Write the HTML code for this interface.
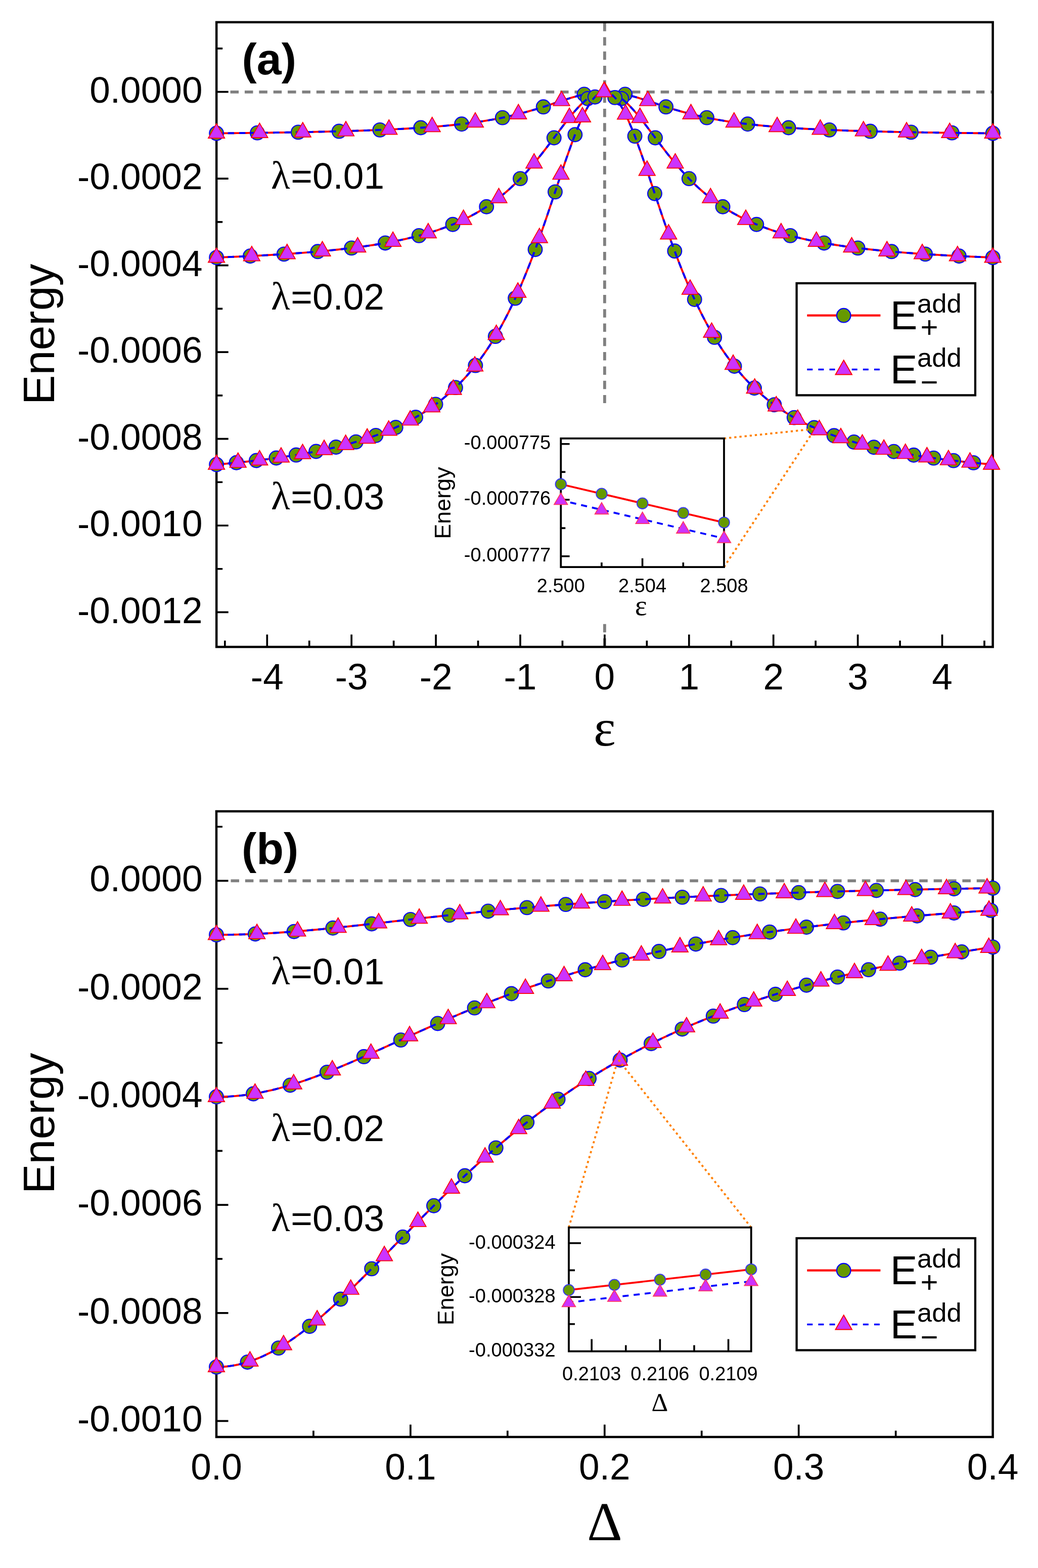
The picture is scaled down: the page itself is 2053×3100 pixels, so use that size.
<!DOCTYPE html>
<html lang="en"><head><meta charset="utf-8"><title>Energy figure</title>
<style>html,body{margin:0;padding:0;background:#fff;overflow:hidden}svg{display:block}</style></head>
<body>
<svg width="2053" height="3100" viewBox="0 0 2053 3100" font-family='"Liberation Sans", Arial, Helvetica, sans-serif' fill="#000">
<rect width="2053" height="3100" fill="#fff"/>
<g id="panel-a">
<path d="M455.6 181.9H1963.6" stroke="#808080" stroke-width="5.8" stroke-dasharray="16.5 11.87" fill="none"/>
<path d="M1195.9 45.2V797M1195.9 1233.8V1279" stroke="#808080" stroke-width="5.8" stroke-dasharray="16.5 11.8" fill="none"/>
<rect x="428.2" y="43.9" width="1535.4" height="1235.1" fill="none" stroke="#000" stroke-width="4.5"/>
<path d="M428.2 181.7h23.5M428.2 353.16h23.5M428.2 524.62h23.5M428.2 696.08h23.5M428.2 867.54h23.5M428.2 1039h23.5M428.2 1210.46h23.5M428.2 95.97h12M428.2 267.43h12M428.2 438.89h12M428.2 610.35h12M428.2 781.81h12M428.2 953.27h12M428.2 1124.73h12M528.3 1279v-24.5M695.2 1279v-24.5M862.1 1279v-24.5M1029 1279v-24.5M1195.9 1279v-24.5M1362.8 1279v-24.5M1529.7 1279v-24.5M1696.6 1279v-24.5M1863.5 1279v-24.5M444.85 1279v-12.5M611.75 1279v-12.5M778.65 1279v-12.5M945.55 1279v-12.5M1112.45 1279v-12.5M1279.35 1279v-12.5M1446.25 1279v-12.5M1613.15 1279v-12.5M1780.05 1279v-12.5M1946.95 1279v-12.5" stroke="#000" stroke-width="3.7" fill="none"/>
<path d="M428.16 263.56L432.65 263.52L437.14 263.47L441.63 263.43L446.12 263.38L450.61 263.34L455.1 263.29L459.59 263.24L464.08 263.19L468.57 263.14L473.06 263.09L477.55 263.04L482.04 262.99L486.53 262.93L491.02 262.88L495.51 262.82L500 262.77L504.49 262.71L508.97 262.65L513.46 262.59L517.95 262.53L522.44 262.47L526.93 262.41L531.42 262.34L535.91 262.28L540.4 262.21L544.89 262.14L549.38 262.07L553.87 262L558.36 261.93L562.85 261.86L567.34 261.78L571.83 261.71L576.32 261.63L580.81 261.55L585.3 261.47L589.79 261.39L594.28 261.3L598.77 261.22L603.26 261.13L607.75 261.04L612.24 260.95L616.73 260.86L621.22 260.76L625.71 260.66L630.2 260.57L634.69 260.46L639.18 260.36L643.67 260.25L648.16 260.15L652.65 260.04L657.14 259.92L661.62 259.81L666.11 259.69L670.6 259.57L675.09 259.45L679.58 259.32L684.07 259.19L688.56 259.06L693.05 258.92L697.54 258.78L702.03 258.64L706.52 258.5L711.01 258.35L715.5 258.2L719.99 258.04L724.48 257.88L728.97 257.72L733.46 257.55L737.95 257.38L742.44 257.2L746.93 257.02L751.42 256.84L755.91 256.65L760.4 256.45L764.89 256.25L769.38 256.05L773.87 255.84L778.36 255.62L782.85 255.4L787.34 255.17L791.83 254.94L796.32 254.7L800.81 254.45L805.3 254.19L809.79 253.93L814.27 253.67L818.76 253.39L823.25 253.11L827.74 252.81L832.23 252.51L836.72 252.21L841.21 251.89L845.7 251.56L850.19 251.23L854.68 250.88L859.17 250.52L863.66 250.15L868.15 249.78L872.64 249.39L877.13 248.99L881.62 248.57L886.11 248.14L890.6 247.7L895.09 247.25L899.58 246.78L904.07 246.3L908.56 245.8L913.05 245.29L917.54 244.76L922.03 244.21L926.52 243.65L931.01 243.07L935.5 242.47L939.99 241.85L944.48 241.21L948.97 240.55L953.46 239.87L957.95 239.16L962.44 238.44L966.92 237.69L971.41 236.91L975.9 236.11L980.39 235.29L984.88 234.44L989.37 233.56L993.86 232.66L998.35 231.72L1002.84 230.76L1007.33 229.77L1011.82 228.75L1016.31 227.7L1020.8 226.62L1025.29 225.51L1029.78 224.36L1034.27 223.19L1038.76 221.99L1043.25 220.75L1047.74 219.48L1052.23 218.19L1056.72 216.86L1061.21 215.51L1065.7 214.13L1070.19 212.73L1074.68 211.31L1079.17 209.86L1083.66 208.4L1088.15 206.92L1092.64 205.43L1097.13 203.94L1101.62 202.44L1106.11 200.94L1110.6 199.46L1115.09 197.98L1119.57 196.53L1124.06 195.1L1128.55 193.7L1133.04 192.35L1137.53 191.04L1142.02 189.79L1146.51 188.6L1151 187.49L1155.49 186.45L1159.98 185.49L1164.47 184.64L1168.96 183.88L1173.45 183.22L1177.94 182.68L1182.43 182.25L1186.92 181.95L1191.41 181.76L1195.9 181.7L1200.39 181.76L1204.88 181.95L1209.37 182.25L1213.86 182.68L1218.35 183.22L1222.84 183.88L1227.33 184.64L1231.82 185.49L1236.31 186.45L1240.8 187.49L1245.29 188.6L1249.78 189.79L1254.27 191.04L1258.76 192.35L1263.25 193.7L1267.74 195.1L1272.23 196.53L1276.71 197.98L1281.2 199.46L1285.69 200.94L1290.18 202.44L1294.67 203.94L1299.16 205.43L1303.65 206.92L1308.14 208.4L1312.63 209.86L1317.12 211.31L1321.61 212.73L1326.1 214.13L1330.59 215.51L1335.08 216.86L1339.57 218.19L1344.06 219.48L1348.55 220.75L1353.04 221.99L1357.53 223.19L1362.02 224.36L1366.51 225.51L1371 226.62L1375.49 227.7L1379.98 228.75L1384.47 229.77L1388.96 230.76L1393.45 231.72L1397.94 232.66L1402.43 233.56L1406.92 234.44L1411.41 235.29L1415.9 236.11L1420.39 236.91L1424.88 237.69L1429.36 238.44L1433.85 239.16L1438.34 239.87L1442.83 240.55L1447.32 241.21L1451.81 241.85L1456.3 242.47L1460.79 243.07L1465.28 243.65L1469.77 244.21L1474.26 244.76L1478.75 245.29L1483.24 245.8L1487.73 246.3L1492.22 246.78L1496.71 247.25L1501.2 247.7L1505.69 248.14L1510.18 248.57L1514.67 248.99L1519.16 249.39L1523.65 249.78L1528.14 250.15L1532.63 250.52L1537.12 250.88L1541.61 251.23L1546.1 251.56L1550.59 251.89L1555.08 252.21L1559.57 252.51L1564.06 252.81L1568.55 253.11L1573.04 253.39L1577.53 253.67L1582.01 253.93L1586.5 254.19L1590.99 254.45L1595.48 254.7L1599.97 254.94L1604.46 255.17L1608.95 255.4L1613.44 255.62L1617.93 255.84L1622.42 256.05L1626.91 256.25L1631.4 256.45L1635.89 256.65L1640.38 256.84L1644.87 257.02L1649.36 257.2L1653.85 257.38L1658.34 257.55L1662.83 257.72L1667.32 257.88L1671.81 258.04L1676.3 258.2L1680.79 258.35L1685.28 258.5L1689.77 258.64L1694.26 258.78L1698.75 258.92L1703.24 259.06L1707.73 259.19L1712.22 259.32L1716.71 259.45L1721.2 259.57L1725.69 259.69L1730.18 259.81L1734.66 259.92L1739.15 260.04L1743.64 260.15L1748.13 260.25L1752.62 260.36L1757.11 260.46L1761.6 260.57L1766.09 260.66L1770.58 260.76L1775.07 260.86L1779.56 260.95L1784.05 261.04L1788.54 261.13L1793.03 261.22L1797.52 261.3L1802.01 261.39L1806.5 261.47L1810.99 261.55L1815.48 261.63L1819.97 261.71L1824.46 261.78L1828.95 261.86L1833.44 261.93L1837.93 262L1842.42 262.07L1846.91 262.14L1851.4 262.21L1855.89 262.28L1860.38 262.34L1864.87 262.41L1869.36 262.47L1873.85 262.53L1878.34 262.59L1882.83 262.65L1887.31 262.71L1891.8 262.77L1896.29 262.82L1900.78 262.88L1905.27 262.93L1909.76 262.99L1914.25 263.04L1918.74 263.09L1923.23 263.14L1927.72 263.19L1932.21 263.24L1936.7 263.29L1941.19 263.34L1945.68 263.38L1950.17 263.43L1954.66 263.47L1959.15 263.52L1963.64 263.56" fill="none" stroke="#ff0000" stroke-width="3.9" stroke-linejoin="round"/>
<g fill="#669900" stroke="#0000ff" stroke-width="2.1"><circle cx="428.16" cy="263.56" r="13.9"/><circle cx="508.97" cy="262.65" r="13.9"/><circle cx="589.79" cy="261.39" r="13.9"/><circle cx="670.6" cy="259.57" r="13.9"/><circle cx="751.42" cy="256.84" r="13.9"/><circle cx="832.23" cy="252.51" r="13.9"/><circle cx="913.05" cy="245.29" r="13.9"/><circle cx="993.86" cy="232.66" r="13.9"/><circle cx="1074.68" cy="211.31" r="13.9"/><circle cx="1155.49" cy="186.45" r="13.9"/><circle cx="1236.31" cy="186.45" r="13.9"/><circle cx="1317.12" cy="211.31" r="13.9"/><circle cx="1397.94" cy="232.66" r="13.9"/><circle cx="1478.75" cy="245.29" r="13.9"/><circle cx="1559.57" cy="252.51" r="13.9"/><circle cx="1640.38" cy="256.84" r="13.9"/><circle cx="1721.2" cy="259.57" r="13.9"/><circle cx="1802.01" cy="261.39" r="13.9"/><circle cx="1882.83" cy="262.65" r="13.9"/><circle cx="1963.64" cy="263.56" r="13.9"/></g>
<path d="M428.16 263.56L432.65 263.52L437.14 263.47L441.63 263.43L446.12 263.38L450.61 263.34L455.1 263.29L459.59 263.24L464.08 263.19L468.57 263.14L473.06 263.09L477.55 263.04L482.04 262.99L486.53 262.93L491.02 262.88L495.51 262.82L500 262.77L504.49 262.71L508.97 262.65L513.46 262.59L517.95 262.53L522.44 262.47L526.93 262.41L531.42 262.34L535.91 262.28L540.4 262.21L544.89 262.14L549.38 262.07L553.87 262L558.36 261.93L562.85 261.86L567.34 261.78L571.83 261.71L576.32 261.63L580.81 261.55L585.3 261.47L589.79 261.39L594.28 261.3L598.77 261.22L603.26 261.13L607.75 261.04L612.24 260.95L616.73 260.86L621.22 260.76L625.71 260.66L630.2 260.57L634.69 260.46L639.18 260.36L643.67 260.25L648.16 260.15L652.65 260.04L657.14 259.92L661.62 259.81L666.11 259.69L670.6 259.57L675.09 259.45L679.58 259.32L684.07 259.19L688.56 259.06L693.05 258.92L697.54 258.78L702.03 258.64L706.52 258.5L711.01 258.35L715.5 258.2L719.99 258.04L724.48 257.88L728.97 257.72L733.46 257.55L737.95 257.38L742.44 257.2L746.93 257.02L751.42 256.84L755.91 256.65L760.4 256.45L764.89 256.25L769.38 256.05L773.87 255.84L778.36 255.62L782.85 255.4L787.34 255.17L791.83 254.94L796.32 254.7L800.81 254.45L805.3 254.19L809.79 253.93L814.27 253.67L818.76 253.39L823.25 253.11L827.74 252.81L832.23 252.51L836.72 252.21L841.21 251.89L845.7 251.56L850.19 251.23L854.68 250.88L859.17 250.52L863.66 250.15L868.15 249.78L872.64 249.39L877.13 248.99L881.62 248.57L886.11 248.14L890.6 247.7L895.09 247.25L899.58 246.78L904.07 246.3L908.56 245.8L913.05 245.29L917.54 244.76L922.03 244.21L926.52 243.65L931.01 243.07L935.5 242.47L939.99 241.85L944.48 241.21L948.97 240.55L953.46 239.87L957.95 239.16L962.44 238.44L966.92 237.69L971.41 236.91L975.9 236.11L980.39 235.29L984.88 234.44L989.37 233.56L993.86 232.66L998.35 231.72L1002.84 230.76L1007.33 229.77L1011.82 228.75L1016.31 227.7L1020.8 226.62L1025.29 225.51L1029.78 224.36L1034.27 223.19L1038.76 221.99L1043.25 220.75L1047.74 219.48L1052.23 218.19L1056.72 216.86L1061.21 215.51L1065.7 214.13L1070.19 212.73L1074.68 211.31L1079.17 209.86L1083.66 208.4L1088.15 206.92L1092.64 205.43L1097.13 203.94L1101.62 202.44L1106.11 200.94L1110.6 199.46L1115.09 197.98L1119.57 196.53L1124.06 195.1L1128.55 193.7L1133.04 192.35L1137.53 191.04L1142.02 189.79L1146.51 188.6L1151 187.49L1155.49 186.45L1159.98 185.49L1164.47 184.64L1168.96 183.88L1173.45 183.22L1177.94 182.68L1182.43 182.25L1186.92 181.95L1191.41 181.76L1195.9 181.7L1200.39 181.76L1204.88 181.95L1209.37 182.25L1213.86 182.68L1218.35 183.22L1222.84 183.88L1227.33 184.64L1231.82 185.49L1236.31 186.45L1240.8 187.49L1245.29 188.6L1249.78 189.79L1254.27 191.04L1258.76 192.35L1263.25 193.7L1267.74 195.1L1272.23 196.53L1276.71 197.98L1281.2 199.46L1285.69 200.94L1290.18 202.44L1294.67 203.94L1299.16 205.43L1303.65 206.92L1308.14 208.4L1312.63 209.86L1317.12 211.31L1321.61 212.73L1326.1 214.13L1330.59 215.51L1335.08 216.86L1339.57 218.19L1344.06 219.48L1348.55 220.75L1353.04 221.99L1357.53 223.19L1362.02 224.36L1366.51 225.51L1371 226.62L1375.49 227.7L1379.98 228.75L1384.47 229.77L1388.96 230.76L1393.45 231.72L1397.94 232.66L1402.43 233.56L1406.92 234.44L1411.41 235.29L1415.9 236.11L1420.39 236.91L1424.88 237.69L1429.36 238.44L1433.85 239.16L1438.34 239.87L1442.83 240.55L1447.32 241.21L1451.81 241.85L1456.3 242.47L1460.79 243.07L1465.28 243.65L1469.77 244.21L1474.26 244.76L1478.75 245.29L1483.24 245.8L1487.73 246.3L1492.22 246.78L1496.71 247.25L1501.2 247.7L1505.69 248.14L1510.18 248.57L1514.67 248.99L1519.16 249.39L1523.65 249.78L1528.14 250.15L1532.63 250.52L1537.12 250.88L1541.61 251.23L1546.1 251.56L1550.59 251.89L1555.08 252.21L1559.57 252.51L1564.06 252.81L1568.55 253.11L1573.04 253.39L1577.53 253.67L1582.01 253.93L1586.5 254.19L1590.99 254.45L1595.48 254.7L1599.97 254.94L1604.46 255.17L1608.95 255.4L1613.44 255.62L1617.93 255.84L1622.42 256.05L1626.91 256.25L1631.4 256.45L1635.89 256.65L1640.38 256.84L1644.87 257.02L1649.36 257.2L1653.85 257.38L1658.34 257.55L1662.83 257.72L1667.32 257.88L1671.81 258.04L1676.3 258.2L1680.79 258.35L1685.28 258.5L1689.77 258.64L1694.26 258.78L1698.75 258.92L1703.24 259.06L1707.73 259.19L1712.22 259.32L1716.71 259.45L1721.2 259.57L1725.69 259.69L1730.18 259.81L1734.66 259.92L1739.15 260.04L1743.64 260.15L1748.13 260.25L1752.62 260.36L1757.11 260.46L1761.6 260.57L1766.09 260.66L1770.58 260.76L1775.07 260.86L1779.56 260.95L1784.05 261.04L1788.54 261.13L1793.03 261.22L1797.52 261.3L1802.01 261.39L1806.5 261.47L1810.99 261.55L1815.48 261.63L1819.97 261.71L1824.46 261.78L1828.95 261.86L1833.44 261.93L1837.93 262L1842.42 262.07L1846.91 262.14L1851.4 262.21L1855.89 262.28L1860.38 262.34L1864.87 262.41L1869.36 262.47L1873.85 262.53L1878.34 262.59L1882.83 262.65L1887.31 262.71L1891.8 262.77L1896.29 262.82L1900.78 262.88L1905.27 262.93L1909.76 262.99L1914.25 263.04L1918.74 263.09L1923.23 263.14L1927.72 263.19L1932.21 263.24L1936.7 263.29L1941.19 263.34L1945.68 263.38L1950.17 263.43L1954.66 263.47L1959.15 263.52L1963.64 263.56" fill="none" stroke="#0000ff" stroke-width="3.9" stroke-dasharray="12.4 10" stroke-linejoin="round"/>
<path d="M428.16 244.32L444.41 273.12H411.91ZM513.46 243.35L529.71 272.15H497.21ZM598.77 241.98L615.02 270.78H582.52ZM684.07 239.95L700.32 268.75H667.82ZM769.38 236.81L785.63 265.61H753.13ZM854.68 231.64L870.93 260.44H838.43ZM939.99 222.61L956.24 251.41H923.74ZM1025.29 206.27L1041.54 235.07H1009.04ZM1110.6 180.22L1126.85 209.02H1094.35ZM1195.9 162.46L1212.15 191.26H1179.65ZM1281.2 180.22L1297.45 209.02H1264.95ZM1366.51 206.27L1382.76 235.07H1350.26ZM1451.81 222.61L1468.06 251.41H1435.56ZM1537.12 231.64L1553.37 260.44H1520.87ZM1622.42 236.81L1638.67 265.61H1606.17ZM1707.73 239.95L1723.98 268.75H1691.48ZM1793.03 241.98L1809.28 270.78H1776.78ZM1878.34 243.35L1894.59 272.15H1862.09ZM1963.64 244.32L1979.89 273.12H1947.39Z" fill="#cc33ff" stroke="#ff0000" stroke-width="1.7"/>
<path d="M428.16 509.15L431.19 509.03L434.23 508.91L437.26 508.79L440.3 508.67L443.33 508.54L446.37 508.42L449.4 508.29L452.44 508.17L455.47 508.04L458.51 507.91L461.54 507.78L464.57 507.64L467.61 507.51L470.64 507.37L473.68 507.24L476.71 507.1L479.75 506.95L482.78 506.81L485.82 506.67L488.85 506.52L491.89 506.37L494.92 506.22L497.95 506.07L500.99 505.92L504.02 505.76L507.06 505.61L510.09 505.45L513.13 505.28L516.16 505.12L519.2 504.96L522.23 504.79L525.27 504.62L528.3 504.45L531.33 504.27L534.37 504.1L537.4 503.92L540.44 503.74L543.47 503.56L546.51 503.37L549.54 503.18L552.58 502.99L555.61 502.8L558.65 502.61L561.68 502.41L564.71 502.21L567.75 502.01L570.78 501.8L573.82 501.59L576.85 501.38L579.89 501.17L582.92 500.95L585.96 500.73L588.99 500.51L592.03 500.28L595.06 500.06L598.09 499.82L601.13 499.59L604.16 499.35L607.2 499.11L610.23 498.86L613.27 498.61L616.3 498.36L619.34 498.11L622.37 497.85L625.41 497.58L628.44 497.32L631.47 497.05L634.51 496.77L637.54 496.49L640.58 496.21L643.61 495.92L646.65 495.63L649.68 495.34L652.72 495.04L655.75 494.73L658.79 494.42L661.82 494.11L664.85 493.79L667.89 493.47L670.92 493.14L673.96 492.81L676.99 492.47L680.03 492.13L683.06 491.78L686.1 491.42L689.13 491.06L692.17 490.7L695.2 490.33L698.23 489.95L701.27 489.57L704.3 489.18L707.34 488.78L710.37 488.38L713.41 487.97L716.44 487.56L719.48 487.14L722.51 486.71L725.55 486.27L728.58 485.83L731.61 485.38L734.65 484.92L737.68 484.45L740.72 483.98L743.75 483.5L746.79 483.01L749.82 482.51L752.86 482L755.89 481.49L758.93 480.96L761.96 480.43L764.99 479.89L768.03 479.33L771.06 478.77L774.1 478.2L777.13 477.62L780.17 477.02L783.2 476.42L786.24 475.8L789.27 475.18L792.31 474.54L795.34 473.89L798.37 473.23L801.41 472.56L804.44 471.87L807.48 471.17L810.51 470.46L813.55 469.74L816.58 469L819.62 468.25L822.65 467.48L825.69 466.7L828.72 465.9L831.75 465.09L834.79 464.26L837.82 463.42L840.86 462.56L843.89 461.68L846.93 460.78L849.96 459.87L853 458.94L856.03 457.99L859.07 457.02L862.1 456.04L865.13 455.03L868.17 454L871.2 452.95L874.24 451.88L877.27 450.79L880.31 449.67L883.34 448.54L886.38 447.37L889.41 446.19L892.45 444.98L895.48 443.74L898.51 442.48L901.55 441.19L904.58 439.88L907.62 438.53L910.65 437.16L913.69 435.76L916.72 434.33L919.76 432.87L922.79 431.38L925.83 429.85L928.86 428.29L931.89 426.7L934.93 425.08L937.96 423.42L941 421.72L944.03 419.99L947.07 418.22L950.1 416.41L953.14 414.56L956.17 412.67L959.21 410.74L962.24 408.77L965.27 406.75L968.31 404.7L971.34 402.6L974.38 400.45L977.41 398.25L980.45 396.01L983.48 393.73L986.52 391.39L989.55 389L992.59 386.57L995.62 384.08L998.65 381.54L1001.69 378.95L1004.72 376.3L1007.76 373.6L1010.79 370.85L1013.83 368.04L1016.86 365.18L1019.9 362.26L1022.93 359.28L1025.97 356.25L1029 353.16L1032.03 350.01L1035.07 346.81L1038.1 343.55L1041.14 340.24L1044.17 336.87L1047.21 333.44L1050.24 329.96L1053.28 326.43L1056.31 322.84L1059.35 319.21L1062.38 315.52L1065.41 311.79L1068.45 308.01L1071.48 304.19L1074.52 300.33L1077.55 296.43L1080.59 292.5L1083.62 288.54L1086.66 284.55L1089.69 280.54L1092.73 276.51L1095.76 272.47L1098.79 268.43L1101.83 264.38L1104.86 260.33L1107.9 256.3L1110.93 252.28L1113.97 248.29L1117 244.34L1120.04 240.42L1123.07 236.55L1126.11 232.74L1129.14 229L1132.17 225.33L1135.21 221.75L1138.24 218.26L1141.28 214.88L1144.31 211.6L1147.35 208.46L1150.38 205.44L1153.42 202.57L1156.45 199.84L1159.49 197.28L1162.52 194.89L1165.55 192.67L1168.59 190.64L1171.62 188.8L1174.66 187.17L1177.69 185.73L1180.73 184.51L1183.76 183.5L1186.8 182.72L1189.83 182.15L1192.87 181.81L1195.9 181.7L1198.93 181.81L1201.97 182.15L1205 182.72L1208.04 183.5L1211.07 184.51L1214.11 185.73L1217.14 187.17L1220.18 188.8L1223.21 190.64L1226.25 192.67L1229.28 194.89L1232.31 197.28L1235.35 199.84L1238.38 202.57L1241.42 205.44L1244.45 208.46L1247.49 211.6L1250.52 214.88L1253.56 218.26L1256.59 221.75L1259.63 225.33L1262.66 229L1265.69 232.74L1268.73 236.55L1271.76 240.42L1274.8 244.34L1277.83 248.29L1280.87 252.28L1283.9 256.3L1286.94 260.33L1289.97 264.38L1293.01 268.43L1296.04 272.47L1299.07 276.51L1302.11 280.54L1305.14 284.55L1308.18 288.54L1311.21 292.5L1314.25 296.43L1317.28 300.33L1320.32 304.19L1323.35 308.01L1326.39 311.79L1329.42 315.52L1332.45 319.21L1335.49 322.84L1338.52 326.43L1341.56 329.96L1344.59 333.44L1347.63 336.87L1350.66 340.24L1353.7 343.55L1356.73 346.81L1359.77 350.01L1362.8 353.16L1365.83 356.25L1368.87 359.28L1371.9 362.26L1374.94 365.18L1377.97 368.04L1381.01 370.85L1384.04 373.6L1387.08 376.3L1390.11 378.95L1393.15 381.54L1396.18 384.08L1399.21 386.57L1402.25 389L1405.28 391.39L1408.32 393.73L1411.35 396.01L1414.39 398.25L1417.42 400.45L1420.46 402.6L1423.49 404.7L1426.53 406.75L1429.56 408.77L1432.59 410.74L1435.63 412.67L1438.66 414.56L1441.7 416.41L1444.73 418.22L1447.77 419.99L1450.8 421.72L1453.84 423.42L1456.87 425.08L1459.91 426.7L1462.94 428.29L1465.97 429.85L1469.01 431.38L1472.04 432.87L1475.08 434.33L1478.11 435.76L1481.15 437.16L1484.18 438.53L1487.22 439.88L1490.25 441.19L1493.29 442.48L1496.32 443.74L1499.35 444.98L1502.39 446.19L1505.42 447.37L1508.46 448.54L1511.49 449.67L1514.53 450.79L1517.56 451.88L1520.6 452.95L1523.63 454L1526.67 455.03L1529.7 456.04L1532.73 457.02L1535.77 457.99L1538.8 458.94L1541.84 459.87L1544.87 460.78L1547.91 461.68L1550.94 462.56L1553.98 463.42L1557.01 464.26L1560.05 465.09L1563.08 465.9L1566.11 466.7L1569.15 467.48L1572.18 468.25L1575.22 469L1578.25 469.74L1581.29 470.46L1584.32 471.17L1587.36 471.87L1590.39 472.56L1593.43 473.23L1596.46 473.89L1599.49 474.54L1602.53 475.18L1605.56 475.8L1608.6 476.42L1611.63 477.02L1614.67 477.62L1617.7 478.2L1620.74 478.77L1623.77 479.33L1626.81 479.89L1629.84 480.43L1632.87 480.96L1635.91 481.49L1638.94 482L1641.98 482.51L1645.01 483.01L1648.05 483.5L1651.08 483.98L1654.12 484.45L1657.15 484.92L1660.19 485.38L1663.22 485.83L1666.25 486.27L1669.29 486.71L1672.32 487.14L1675.36 487.56L1678.39 487.97L1681.43 488.38L1684.46 488.78L1687.5 489.18L1690.53 489.57L1693.57 489.95L1696.6 490.33L1699.63 490.7L1702.67 491.06L1705.7 491.42L1708.74 491.78L1711.77 492.13L1714.81 492.47L1717.84 492.81L1720.88 493.14L1723.91 493.47L1726.95 493.79L1729.98 494.11L1733.01 494.42L1736.05 494.73L1739.08 495.04L1742.12 495.34L1745.15 495.63L1748.19 495.92L1751.22 496.21L1754.26 496.49L1757.29 496.77L1760.33 497.05L1763.36 497.32L1766.39 497.58L1769.43 497.85L1772.46 498.11L1775.5 498.36L1778.53 498.61L1781.57 498.86L1784.6 499.11L1787.64 499.35L1790.67 499.59L1793.71 499.82L1796.74 500.06L1799.77 500.28L1802.81 500.51L1805.84 500.73L1808.88 500.95L1811.91 501.17L1814.95 501.38L1817.98 501.59L1821.02 501.8L1824.05 502.01L1827.09 502.21L1830.12 502.41L1833.15 502.61L1836.19 502.8L1839.22 502.99L1842.26 503.18L1845.29 503.37L1848.33 503.56L1851.36 503.74L1854.4 503.92L1857.43 504.1L1860.47 504.27L1863.5 504.45L1866.53 504.62L1869.57 504.79L1872.6 504.96L1875.64 505.12L1878.67 505.28L1881.71 505.45L1884.74 505.61L1887.78 505.76L1890.81 505.92L1893.85 506.07L1896.88 506.22L1899.91 506.37L1902.95 506.52L1905.98 506.67L1909.02 506.81L1912.05 506.95L1915.09 507.1L1918.12 507.24L1921.16 507.37L1924.19 507.51L1927.23 507.64L1930.26 507.78L1933.29 507.91L1936.33 508.04L1939.36 508.17L1942.4 508.29L1945.43 508.42L1948.47 508.54L1951.5 508.67L1954.54 508.79L1957.57 508.91L1960.61 509.03L1963.64 509.15" fill="none" stroke="#ff0000" stroke-width="3.9" stroke-linejoin="round"/>
<g fill="#669900" stroke="#0000ff" stroke-width="2.1"><circle cx="428.16" cy="509.15" r="13.9"/><circle cx="494.92" cy="506.22" r="13.9"/><circle cx="561.68" cy="502.41" r="13.9"/><circle cx="628.44" cy="497.32" r="13.9"/><circle cx="695.2" cy="490.33" r="13.9"/><circle cx="761.96" cy="480.43" r="13.9"/><circle cx="828.72" cy="465.9" r="13.9"/><circle cx="895.48" cy="443.74" r="13.9"/><circle cx="962.24" cy="408.77" r="13.9"/><circle cx="1029" cy="353.16" r="13.9"/><circle cx="1095.76" cy="272.47" r="13.9"/><circle cx="1162.52" cy="194.89" r="13.9"/><circle cx="1229.28" cy="194.89" r="13.9"/><circle cx="1296.04" cy="272.47" r="13.9"/><circle cx="1362.8" cy="353.16" r="13.9"/><circle cx="1429.56" cy="408.77" r="13.9"/><circle cx="1496.32" cy="443.74" r="13.9"/><circle cx="1563.08" cy="465.9" r="13.9"/><circle cx="1629.84" cy="480.43" r="13.9"/><circle cx="1696.6" cy="490.33" r="13.9"/><circle cx="1763.36" cy="497.32" r="13.9"/><circle cx="1830.12" cy="502.41" r="13.9"/><circle cx="1896.88" cy="506.22" r="13.9"/><circle cx="1963.64" cy="509.15" r="13.9"/></g>
<path d="M428.16 509.15L431.19 509.03L434.23 508.91L437.26 508.79L440.3 508.67L443.33 508.54L446.37 508.42L449.4 508.29L452.44 508.17L455.47 508.04L458.51 507.91L461.54 507.78L464.57 507.64L467.61 507.51L470.64 507.37L473.68 507.24L476.71 507.1L479.75 506.95L482.78 506.81L485.82 506.67L488.85 506.52L491.89 506.37L494.92 506.22L497.95 506.07L500.99 505.92L504.02 505.76L507.06 505.61L510.09 505.45L513.13 505.28L516.16 505.12L519.2 504.96L522.23 504.79L525.27 504.62L528.3 504.45L531.33 504.27L534.37 504.1L537.4 503.92L540.44 503.74L543.47 503.56L546.51 503.37L549.54 503.18L552.58 502.99L555.61 502.8L558.65 502.61L561.68 502.41L564.71 502.21L567.75 502.01L570.78 501.8L573.82 501.59L576.85 501.38L579.89 501.17L582.92 500.95L585.96 500.73L588.99 500.51L592.03 500.28L595.06 500.06L598.09 499.82L601.13 499.59L604.16 499.35L607.2 499.11L610.23 498.86L613.27 498.61L616.3 498.36L619.34 498.11L622.37 497.85L625.41 497.58L628.44 497.32L631.47 497.05L634.51 496.77L637.54 496.49L640.58 496.21L643.61 495.92L646.65 495.63L649.68 495.34L652.72 495.04L655.75 494.73L658.79 494.42L661.82 494.11L664.85 493.79L667.89 493.47L670.92 493.14L673.96 492.81L676.99 492.47L680.03 492.13L683.06 491.78L686.1 491.42L689.13 491.06L692.17 490.7L695.2 490.33L698.23 489.95L701.27 489.57L704.3 489.18L707.34 488.78L710.37 488.38L713.41 487.97L716.44 487.56L719.48 487.14L722.51 486.71L725.55 486.27L728.58 485.83L731.61 485.38L734.65 484.92L737.68 484.45L740.72 483.98L743.75 483.5L746.79 483.01L749.82 482.51L752.86 482L755.89 481.49L758.93 480.96L761.96 480.43L764.99 479.89L768.03 479.33L771.06 478.77L774.1 478.2L777.13 477.62L780.17 477.02L783.2 476.42L786.24 475.8L789.27 475.18L792.31 474.54L795.34 473.89L798.37 473.23L801.41 472.56L804.44 471.87L807.48 471.17L810.51 470.46L813.55 469.74L816.58 469L819.62 468.25L822.65 467.48L825.69 466.7L828.72 465.9L831.75 465.09L834.79 464.26L837.82 463.42L840.86 462.56L843.89 461.68L846.93 460.78L849.96 459.87L853 458.94L856.03 457.99L859.07 457.02L862.1 456.04L865.13 455.03L868.17 454L871.2 452.95L874.24 451.88L877.27 450.79L880.31 449.67L883.34 448.54L886.38 447.37L889.41 446.19L892.45 444.98L895.48 443.74L898.51 442.48L901.55 441.19L904.58 439.88L907.62 438.53L910.65 437.16L913.69 435.76L916.72 434.33L919.76 432.87L922.79 431.38L925.83 429.85L928.86 428.29L931.89 426.7L934.93 425.08L937.96 423.42L941 421.72L944.03 419.99L947.07 418.22L950.1 416.41L953.14 414.56L956.17 412.67L959.21 410.74L962.24 408.77L965.27 406.75L968.31 404.7L971.34 402.6L974.38 400.45L977.41 398.25L980.45 396.01L983.48 393.73L986.52 391.39L989.55 389L992.59 386.57L995.62 384.08L998.65 381.54L1001.69 378.95L1004.72 376.3L1007.76 373.6L1010.79 370.85L1013.83 368.04L1016.86 365.18L1019.9 362.26L1022.93 359.28L1025.97 356.25L1029 353.16L1032.03 350.01L1035.07 346.81L1038.1 343.55L1041.14 340.24L1044.17 336.87L1047.21 333.44L1050.24 329.96L1053.28 326.43L1056.31 322.84L1059.35 319.21L1062.38 315.52L1065.41 311.79L1068.45 308.01L1071.48 304.19L1074.52 300.33L1077.55 296.43L1080.59 292.5L1083.62 288.54L1086.66 284.55L1089.69 280.54L1092.73 276.51L1095.76 272.47L1098.79 268.43L1101.83 264.38L1104.86 260.33L1107.9 256.3L1110.93 252.28L1113.97 248.29L1117 244.34L1120.04 240.42L1123.07 236.55L1126.11 232.74L1129.14 229L1132.17 225.33L1135.21 221.75L1138.24 218.26L1141.28 214.88L1144.31 211.6L1147.35 208.46L1150.38 205.44L1153.42 202.57L1156.45 199.84L1159.49 197.28L1162.52 194.89L1165.55 192.67L1168.59 190.64L1171.62 188.8L1174.66 187.17L1177.69 185.73L1180.73 184.51L1183.76 183.5L1186.8 182.72L1189.83 182.15L1192.87 181.81L1195.9 181.7L1198.93 181.81L1201.97 182.15L1205 182.72L1208.04 183.5L1211.07 184.51L1214.11 185.73L1217.14 187.17L1220.18 188.8L1223.21 190.64L1226.25 192.67L1229.28 194.89L1232.31 197.28L1235.35 199.84L1238.38 202.57L1241.42 205.44L1244.45 208.46L1247.49 211.6L1250.52 214.88L1253.56 218.26L1256.59 221.75L1259.63 225.33L1262.66 229L1265.69 232.74L1268.73 236.55L1271.76 240.42L1274.8 244.34L1277.83 248.29L1280.87 252.28L1283.9 256.3L1286.94 260.33L1289.97 264.38L1293.01 268.43L1296.04 272.47L1299.07 276.51L1302.11 280.54L1305.14 284.55L1308.18 288.54L1311.21 292.5L1314.25 296.43L1317.28 300.33L1320.32 304.19L1323.35 308.01L1326.39 311.79L1329.42 315.52L1332.45 319.21L1335.49 322.84L1338.52 326.43L1341.56 329.96L1344.59 333.44L1347.63 336.87L1350.66 340.24L1353.7 343.55L1356.73 346.81L1359.77 350.01L1362.8 353.16L1365.83 356.25L1368.87 359.28L1371.9 362.26L1374.94 365.18L1377.97 368.04L1381.01 370.85L1384.04 373.6L1387.08 376.3L1390.11 378.95L1393.15 381.54L1396.18 384.08L1399.21 386.57L1402.25 389L1405.28 391.39L1408.32 393.73L1411.35 396.01L1414.39 398.25L1417.42 400.45L1420.46 402.6L1423.49 404.7L1426.53 406.75L1429.56 408.77L1432.59 410.74L1435.63 412.67L1438.66 414.56L1441.7 416.41L1444.73 418.22L1447.77 419.99L1450.8 421.72L1453.84 423.42L1456.87 425.08L1459.91 426.7L1462.94 428.29L1465.97 429.85L1469.01 431.38L1472.04 432.87L1475.08 434.33L1478.11 435.76L1481.15 437.16L1484.18 438.53L1487.22 439.88L1490.25 441.19L1493.29 442.48L1496.32 443.74L1499.35 444.98L1502.39 446.19L1505.42 447.37L1508.46 448.54L1511.49 449.67L1514.53 450.79L1517.56 451.88L1520.6 452.95L1523.63 454L1526.67 455.03L1529.7 456.04L1532.73 457.02L1535.77 457.99L1538.8 458.94L1541.84 459.87L1544.87 460.78L1547.91 461.68L1550.94 462.56L1553.98 463.42L1557.01 464.26L1560.05 465.09L1563.08 465.9L1566.11 466.7L1569.15 467.48L1572.18 468.25L1575.22 469L1578.25 469.74L1581.29 470.46L1584.32 471.17L1587.36 471.87L1590.39 472.56L1593.43 473.23L1596.46 473.89L1599.49 474.54L1602.53 475.18L1605.56 475.8L1608.6 476.42L1611.63 477.02L1614.67 477.62L1617.7 478.2L1620.74 478.77L1623.77 479.33L1626.81 479.89L1629.84 480.43L1632.87 480.96L1635.91 481.49L1638.94 482L1641.98 482.51L1645.01 483.01L1648.05 483.5L1651.08 483.98L1654.12 484.45L1657.15 484.92L1660.19 485.38L1663.22 485.83L1666.25 486.27L1669.29 486.71L1672.32 487.14L1675.36 487.56L1678.39 487.97L1681.43 488.38L1684.46 488.78L1687.5 489.18L1690.53 489.57L1693.57 489.95L1696.6 490.33L1699.63 490.7L1702.67 491.06L1705.7 491.42L1708.74 491.78L1711.77 492.13L1714.81 492.47L1717.84 492.81L1720.88 493.14L1723.91 493.47L1726.95 493.79L1729.98 494.11L1733.01 494.42L1736.05 494.73L1739.08 495.04L1742.12 495.34L1745.15 495.63L1748.19 495.92L1751.22 496.21L1754.26 496.49L1757.29 496.77L1760.33 497.05L1763.36 497.32L1766.39 497.58L1769.43 497.85L1772.46 498.11L1775.5 498.36L1778.53 498.61L1781.57 498.86L1784.6 499.11L1787.64 499.35L1790.67 499.59L1793.71 499.82L1796.74 500.06L1799.77 500.28L1802.81 500.51L1805.84 500.73L1808.88 500.95L1811.91 501.17L1814.95 501.38L1817.98 501.59L1821.02 501.8L1824.05 502.01L1827.09 502.21L1830.12 502.41L1833.15 502.61L1836.19 502.8L1839.22 502.99L1842.26 503.18L1845.29 503.37L1848.33 503.56L1851.36 503.74L1854.4 503.92L1857.43 504.1L1860.47 504.27L1863.5 504.45L1866.53 504.62L1869.57 504.79L1872.6 504.96L1875.64 505.12L1878.67 505.28L1881.71 505.45L1884.74 505.61L1887.78 505.76L1890.81 505.92L1893.85 506.07L1896.88 506.22L1899.91 506.37L1902.95 506.52L1905.98 506.67L1909.02 506.81L1912.05 506.95L1915.09 507.1L1918.12 507.24L1921.16 507.37L1924.19 507.51L1927.23 507.64L1930.26 507.78L1933.29 507.91L1936.33 508.04L1939.36 508.17L1942.4 508.29L1945.43 508.42L1948.47 508.54L1951.5 508.67L1954.54 508.79L1957.57 508.91L1960.61 509.03L1963.64 509.15" fill="none" stroke="#0000ff" stroke-width="3.9" stroke-dasharray="12.4 10" stroke-linejoin="round"/>
<path d="M428.16 489.91L444.41 518.71H411.91ZM497.95 486.83L514.2 515.63H481.7ZM567.75 482.77L584 511.57H551.5ZM637.54 477.26L653.79 506.06H621.29ZM707.34 469.54L723.59 498.34H691.09ZM777.13 458.38L793.38 487.18H760.88ZM846.93 441.55L863.18 470.35H830.68ZM916.72 415.09L932.97 443.89H900.47ZM986.52 372.15L1002.77 400.95H970.27ZM1056.31 303.61L1072.56 332.41H1040.06ZM1126.11 213.5L1142.36 242.3H1109.86ZM1195.9 162.46L1212.15 191.26H1179.65ZM1265.69 213.5L1281.94 242.3H1249.44ZM1335.49 303.61L1351.74 332.41H1319.24ZM1405.28 372.15L1421.53 400.95H1389.03ZM1475.08 415.09L1491.33 443.89H1458.83ZM1544.87 441.55L1561.12 470.35H1528.62ZM1614.67 458.38L1630.92 487.18H1598.42ZM1684.46 469.54L1700.71 498.34H1668.21ZM1754.26 477.26L1770.51 506.06H1738.01ZM1824.05 482.77L1840.3 511.57H1807.8ZM1893.85 486.83L1910.1 515.63H1877.6ZM1963.64 489.91L1979.89 518.71H1947.39Z" fill="#cc33ff" stroke="#ff0000" stroke-width="1.7"/>
<path d="M428.16 918.45L431.44 918.17L434.72 917.88L438 917.58L441.28 917.29L444.56 916.99L447.85 916.68L451.13 916.38L454.41 916.06L457.69 915.75L460.97 915.43L464.25 915.11L467.53 914.78L470.81 914.45L474.09 914.11L477.37 913.77L480.66 913.43L483.94 913.08L487.22 912.72L490.5 912.37L493.78 912L497.06 911.64L500.34 911.26L503.62 910.89L506.9 910.5L510.18 910.12L513.46 909.73L516.75 909.33L520.03 908.92L523.31 908.52L526.59 908.1L529.87 907.68L533.15 907.26L536.43 906.83L539.71 906.39L542.99 905.94L546.27 905.49L549.55 905.04L552.84 904.58L556.12 904.11L559.4 903.63L562.68 903.15L565.96 902.66L569.24 902.17L572.52 901.66L575.8 901.15L579.08 900.63L582.36 900.11L585.65 899.57L588.93 899.03L592.21 898.48L595.49 897.93L598.77 897.36L602.05 896.79L605.33 896.2L608.61 895.61L611.89 895.01L615.17 894.4L618.45 893.78L621.74 893.15L625.02 892.52L628.3 891.87L631.58 891.21L634.86 890.54L638.14 889.86L641.42 889.17L644.7 888.47L647.98 887.76L651.26 887.03L654.54 886.3L657.83 885.55L661.11 884.79L664.39 884.02L667.67 883.24L670.95 882.44L674.23 881.63L677.51 880.8L680.79 879.96L684.07 879.11L687.35 878.25L690.64 877.36L693.92 876.47L697.2 875.56L700.48 874.63L703.76 873.69L707.04 872.73L710.32 871.75L713.6 870.75L716.88 869.74L720.16 868.71L723.44 867.67L726.73 866.6L730.01 865.51L733.29 864.41L736.57 863.28L739.85 862.14L743.13 860.97L746.41 859.78L749.69 858.57L752.97 857.34L756.25 856.08L759.53 854.8L762.82 853.5L766.1 852.17L769.38 850.82L772.66 849.44L775.94 848.03L779.22 846.6L782.5 845.13L785.78 843.64L789.06 842.12L792.34 840.57L795.63 838.99L798.91 837.38L802.19 835.74L805.47 834.06L808.75 832.35L812.03 830.6L815.31 828.82L818.59 827L821.87 825.15L825.15 823.26L828.43 821.32L831.72 819.35L835 817.33L838.28 815.28L841.56 813.17L844.84 811.03L848.12 808.84L851.4 806.6L854.68 804.31L857.96 801.97L861.24 799.59L864.53 797.15L867.81 794.65L871.09 792.11L874.37 789.5L877.65 786.84L880.93 784.12L884.21 781.34L887.49 778.49L890.77 775.58L894.05 772.61L897.33 769.57L900.62 766.46L903.9 763.28L907.18 760.02L910.46 756.69L913.74 753.28L917.02 749.8L920.3 746.23L923.58 742.58L926.86 738.85L930.14 735.03L933.42 731.12L936.71 727.12L939.99 723.03L943.27 718.84L946.55 714.55L949.83 710.16L953.11 705.67L956.39 701.07L959.67 696.36L962.95 691.55L966.23 686.62L969.52 681.58L972.8 676.41L976.08 671.13L979.36 665.73L982.64 660.2L985.92 654.54L989.2 648.76L992.48 642.84L995.76 636.79L999.04 630.6L1002.32 624.27L1005.61 617.8L1008.89 611.19L1012.17 604.44L1015.45 597.54L1018.73 590.5L1022.01 583.3L1025.29 575.96L1028.57 568.47L1031.85 560.83L1035.13 553.05L1038.41 545.11L1041.7 537.03L1044.98 528.8L1048.26 520.42L1051.54 511.91L1054.82 503.25L1058.1 494.46L1061.38 485.54L1064.66 476.49L1067.94 467.33L1071.22 458.05L1074.51 448.66L1077.79 439.17L1081.07 429.6L1084.35 419.95L1087.63 410.23L1090.91 400.46L1094.19 390.64L1097.47 380.8L1100.75 370.95L1104.03 361.11L1107.31 351.29L1110.6 341.51L1113.88 331.8L1117.16 322.18L1120.44 312.66L1123.72 303.27L1127 294.05L1130.28 285L1133.56 276.16L1136.84 267.56L1140.12 259.21L1143.4 251.16L1146.69 243.42L1149.97 236.03L1153.25 229L1156.53 222.37L1159.81 216.17L1163.09 210.41L1166.37 205.12L1169.65 200.32L1172.93 196.04L1176.21 192.29L1179.5 189.08L1182.78 186.44L1186.06 184.37L1189.34 182.89L1192.62 182L1195.9 181.7L1199.18 182L1202.46 182.89L1205.74 184.37L1209.02 186.44L1212.3 189.08L1215.59 192.29L1218.87 196.04L1222.15 200.32L1225.43 205.12L1228.71 210.41L1231.99 216.17L1235.27 222.37L1238.55 229L1241.83 236.03L1245.11 243.42L1248.4 251.16L1251.68 259.21L1254.96 267.56L1258.24 276.16L1261.52 285L1264.8 294.05L1268.08 303.27L1271.36 312.66L1274.64 322.18L1277.92 331.8L1281.2 341.51L1284.49 351.29L1287.77 361.11L1291.05 370.95L1294.33 380.8L1297.61 390.64L1300.89 400.46L1304.17 410.23L1307.45 419.95L1310.73 429.6L1314.01 439.17L1317.29 448.66L1320.58 458.05L1323.86 467.33L1327.14 476.49L1330.42 485.54L1333.7 494.46L1336.98 503.25L1340.26 511.91L1343.54 520.42L1346.82 528.8L1350.1 537.03L1353.39 545.11L1356.67 553.05L1359.95 560.83L1363.23 568.47L1366.51 575.96L1369.79 583.3L1373.07 590.5L1376.35 597.54L1379.63 604.44L1382.91 611.19L1386.19 617.8L1389.48 624.27L1392.76 630.6L1396.04 636.79L1399.32 642.84L1402.6 648.76L1405.88 654.54L1409.16 660.2L1412.44 665.73L1415.72 671.13L1419 676.41L1422.28 681.58L1425.57 686.62L1428.85 691.55L1432.13 696.36L1435.41 701.07L1438.69 705.67L1441.97 710.16L1445.25 714.55L1448.53 718.84L1451.81 723.03L1455.09 727.12L1458.38 731.12L1461.66 735.03L1464.94 738.85L1468.22 742.58L1471.5 746.23L1474.78 749.8L1478.06 753.28L1481.34 756.69L1484.62 760.02L1487.9 763.28L1491.18 766.46L1494.47 769.57L1497.75 772.61L1501.03 775.58L1504.31 778.49L1507.59 781.34L1510.87 784.12L1514.15 786.84L1517.43 789.5L1520.71 792.11L1523.99 794.65L1527.27 797.15L1530.56 799.59L1533.84 801.97L1537.12 804.31L1540.4 806.6L1543.68 808.84L1546.96 811.03L1550.24 813.17L1553.52 815.28L1556.8 817.33L1560.08 819.35L1563.37 821.32L1566.65 823.26L1569.93 825.15L1573.21 827L1576.49 828.82L1579.77 830.6L1583.05 832.35L1586.33 834.06L1589.61 835.74L1592.89 837.38L1596.17 838.99L1599.46 840.57L1602.74 842.12L1606.02 843.64L1609.3 845.13L1612.58 846.6L1615.86 848.03L1619.14 849.44L1622.42 850.82L1625.7 852.17L1628.98 853.5L1632.27 854.8L1635.55 856.08L1638.83 857.34L1642.11 858.57L1645.39 859.78L1648.67 860.97L1651.95 862.14L1655.23 863.28L1658.51 864.41L1661.79 865.51L1665.07 866.6L1668.36 867.67L1671.64 868.71L1674.92 869.74L1678.2 870.75L1681.48 871.75L1684.76 872.73L1688.04 873.69L1691.32 874.63L1694.6 875.56L1697.88 876.47L1701.16 877.36L1704.45 878.25L1707.73 879.11L1711.01 879.96L1714.29 880.8L1717.57 881.63L1720.85 882.44L1724.13 883.24L1727.41 884.02L1730.69 884.79L1733.97 885.55L1737.26 886.3L1740.54 887.03L1743.82 887.76L1747.1 888.47L1750.38 889.17L1753.66 889.86L1756.94 890.54L1760.22 891.21L1763.5 891.87L1766.78 892.52L1770.06 893.15L1773.35 893.78L1776.63 894.4L1779.91 895.01L1783.19 895.61L1786.47 896.2L1789.75 896.79L1793.03 897.36L1796.31 897.93L1799.59 898.48L1802.87 899.03L1806.15 899.57L1809.44 900.11L1812.72 900.63L1816 901.15L1819.28 901.66L1822.56 902.17L1825.84 902.66L1829.12 903.15L1832.4 903.63L1835.68 904.11L1838.96 904.58L1842.25 905.04L1845.53 905.49L1848.81 905.94L1852.09 906.39L1855.37 906.83L1858.65 907.26L1861.93 907.68L1865.21 908.1L1868.49 908.52L1871.77 908.92L1875.05 909.33L1878.34 909.73L1881.62 910.12L1884.9 910.5L1888.18 910.89L1891.46 911.26L1894.74 911.64L1898.02 912L1901.3 912.37L1904.58 912.72L1907.86 913.08L1911.14 913.43L1914.43 913.77L1917.71 914.11L1920.99 914.45L1924.27 914.78L1927.55 915.11L1930.83 915.43L1934.11 915.75L1937.39 916.06L1940.67 916.38L1943.95 916.68L1947.24 916.99L1950.52 917.29L1953.8 917.58L1957.08 917.88L1960.36 918.17L1963.64 918.45" fill="none" stroke="#ff0000" stroke-width="3.9" stroke-linejoin="round"/>
<g fill="#669900" stroke="#0000ff" stroke-width="2.1"><circle cx="428.16" cy="918.45" r="13.9"/><circle cx="467.56" cy="914.78" r="13.9"/><circle cx="506.96" cy="910.5" r="13.9"/><circle cx="546.36" cy="905.48" r="13.9"/><circle cx="585.76" cy="899.56" r="13.9"/><circle cx="625.16" cy="892.49" r="13.9"/><circle cx="664.56" cy="883.98" r="13.9"/><circle cx="703.96" cy="873.63" r="13.9"/><circle cx="743.36" cy="860.89" r="13.9"/><circle cx="782.76" cy="845.02" r="13.9"/><circle cx="822.16" cy="824.98" r="13.9"/><circle cx="861.56" cy="799.35" r="13.9"/><circle cx="900.96" cy="766.13" r="13.9"/><circle cx="940.36" cy="722.56" r="13.9"/><circle cx="979.76" cy="665.06" r="13.9"/><circle cx="1019.16" cy="589.56" r="13.9"/><circle cx="1058.56" cy="493.22" r="13.9"/><circle cx="1097.96" cy="379.34" r="13.9"/><circle cx="1137.36" cy="266.22" r="13.9"/><circle cx="1176.76" cy="191.72" r="13.9"/><circle cx="1216.16" cy="192.9" r="13.9"/><circle cx="1255.56" cy="269.12" r="13.9"/><circle cx="1294.96" cy="382.7" r="13.9"/><circle cx="1334.36" cy="496.24" r="13.9"/><circle cx="1373.76" cy="591.99" r="13.9"/><circle cx="1413.16" cy="666.92" r="13.9"/><circle cx="1452.56" cy="723.97" r="13.9"/><circle cx="1491.96" cy="767.2" r="13.9"/><circle cx="1531.36" cy="800.18" r="13.9"/><circle cx="1570.76" cy="825.62" r="13.9"/><circle cx="1610.16" cy="845.52" r="13.9"/><circle cx="1649.56" cy="861.29" r="13.9"/><circle cx="1688.96" cy="873.95" r="13.9"/><circle cx="1728.36" cy="884.24" r="13.9"/><circle cx="1767.76" cy="892.71" r="13.9"/><circle cx="1807.16" cy="899.74" r="13.9"/><circle cx="1846.56" cy="905.64" r="13.9"/><circle cx="1885.96" cy="910.63" r="13.9"/><circle cx="1925.36" cy="914.89" r="13.9"/></g>
<path d="M428.16 918.45L431.44 918.17L434.72 917.88L438 917.58L441.28 917.29L444.56 916.99L447.85 916.68L451.13 916.38L454.41 916.06L457.69 915.75L460.97 915.43L464.25 915.11L467.53 914.78L470.81 914.45L474.09 914.11L477.37 913.77L480.66 913.43L483.94 913.08L487.22 912.72L490.5 912.37L493.78 912L497.06 911.64L500.34 911.26L503.62 910.89L506.9 910.5L510.18 910.12L513.46 909.73L516.75 909.33L520.03 908.92L523.31 908.52L526.59 908.1L529.87 907.68L533.15 907.26L536.43 906.83L539.71 906.39L542.99 905.94L546.27 905.49L549.55 905.04L552.84 904.58L556.12 904.11L559.4 903.63L562.68 903.15L565.96 902.66L569.24 902.17L572.52 901.66L575.8 901.15L579.08 900.63L582.36 900.11L585.65 899.57L588.93 899.03L592.21 898.48L595.49 897.93L598.77 897.36L602.05 896.79L605.33 896.2L608.61 895.61L611.89 895.01L615.17 894.4L618.45 893.78L621.74 893.15L625.02 892.52L628.3 891.87L631.58 891.21L634.86 890.54L638.14 889.86L641.42 889.17L644.7 888.47L647.98 887.76L651.26 887.03L654.54 886.3L657.83 885.55L661.11 884.79L664.39 884.02L667.67 883.24L670.95 882.44L674.23 881.63L677.51 880.8L680.79 879.96L684.07 879.11L687.35 878.25L690.64 877.36L693.92 876.47L697.2 875.56L700.48 874.63L703.76 873.69L707.04 872.73L710.32 871.75L713.6 870.75L716.88 869.74L720.16 868.71L723.44 867.67L726.73 866.6L730.01 865.51L733.29 864.41L736.57 863.28L739.85 862.14L743.13 860.97L746.41 859.78L749.69 858.57L752.97 857.34L756.25 856.08L759.53 854.8L762.82 853.5L766.1 852.17L769.38 850.82L772.66 849.44L775.94 848.03L779.22 846.6L782.5 845.13L785.78 843.64L789.06 842.12L792.34 840.57L795.63 838.99L798.91 837.38L802.19 835.74L805.47 834.06L808.75 832.35L812.03 830.6L815.31 828.82L818.59 827L821.87 825.15L825.15 823.26L828.43 821.32L831.72 819.35L835 817.33L838.28 815.28L841.56 813.17L844.84 811.03L848.12 808.84L851.4 806.6L854.68 804.31L857.96 801.97L861.24 799.59L864.53 797.15L867.81 794.65L871.09 792.11L874.37 789.5L877.65 786.84L880.93 784.12L884.21 781.34L887.49 778.49L890.77 775.58L894.05 772.61L897.33 769.57L900.62 766.46L903.9 763.28L907.18 760.02L910.46 756.69L913.74 753.28L917.02 749.8L920.3 746.23L923.58 742.58L926.86 738.85L930.14 735.03L933.42 731.12L936.71 727.12L939.99 723.03L943.27 718.84L946.55 714.55L949.83 710.16L953.11 705.67L956.39 701.07L959.67 696.36L962.95 691.55L966.23 686.62L969.52 681.58L972.8 676.41L976.08 671.13L979.36 665.73L982.64 660.2L985.92 654.54L989.2 648.76L992.48 642.84L995.76 636.79L999.04 630.6L1002.32 624.27L1005.61 617.8L1008.89 611.19L1012.17 604.44L1015.45 597.54L1018.73 590.5L1022.01 583.3L1025.29 575.96L1028.57 568.47L1031.85 560.83L1035.13 553.05L1038.41 545.11L1041.7 537.03L1044.98 528.8L1048.26 520.42L1051.54 511.91L1054.82 503.25L1058.1 494.46L1061.38 485.54L1064.66 476.49L1067.94 467.33L1071.22 458.05L1074.51 448.66L1077.79 439.17L1081.07 429.6L1084.35 419.95L1087.63 410.23L1090.91 400.46L1094.19 390.64L1097.47 380.8L1100.75 370.95L1104.03 361.11L1107.31 351.29L1110.6 341.51L1113.88 331.8L1117.16 322.18L1120.44 312.66L1123.72 303.27L1127 294.05L1130.28 285L1133.56 276.16L1136.84 267.56L1140.12 259.21L1143.4 251.16L1146.69 243.42L1149.97 236.03L1153.25 229L1156.53 222.37L1159.81 216.17L1163.09 210.41L1166.37 205.12L1169.65 200.32L1172.93 196.04L1176.21 192.29L1179.5 189.08L1182.78 186.44L1186.06 184.37L1189.34 182.89L1192.62 182L1195.9 181.7L1199.18 182L1202.46 182.89L1205.74 184.37L1209.02 186.44L1212.3 189.08L1215.59 192.29L1218.87 196.04L1222.15 200.32L1225.43 205.12L1228.71 210.41L1231.99 216.17L1235.27 222.37L1238.55 229L1241.83 236.03L1245.11 243.42L1248.4 251.16L1251.68 259.21L1254.96 267.56L1258.24 276.16L1261.52 285L1264.8 294.05L1268.08 303.27L1271.36 312.66L1274.64 322.18L1277.92 331.8L1281.2 341.51L1284.49 351.29L1287.77 361.11L1291.05 370.95L1294.33 380.8L1297.61 390.64L1300.89 400.46L1304.17 410.23L1307.45 419.95L1310.73 429.6L1314.01 439.17L1317.29 448.66L1320.58 458.05L1323.86 467.33L1327.14 476.49L1330.42 485.54L1333.7 494.46L1336.98 503.25L1340.26 511.91L1343.54 520.42L1346.82 528.8L1350.1 537.03L1353.39 545.11L1356.67 553.05L1359.95 560.83L1363.23 568.47L1366.51 575.96L1369.79 583.3L1373.07 590.5L1376.35 597.54L1379.63 604.44L1382.91 611.19L1386.19 617.8L1389.48 624.27L1392.76 630.6L1396.04 636.79L1399.32 642.84L1402.6 648.76L1405.88 654.54L1409.16 660.2L1412.44 665.73L1415.72 671.13L1419 676.41L1422.28 681.58L1425.57 686.62L1428.85 691.55L1432.13 696.36L1435.41 701.07L1438.69 705.67L1441.97 710.16L1445.25 714.55L1448.53 718.84L1451.81 723.03L1455.09 727.12L1458.38 731.12L1461.66 735.03L1464.94 738.85L1468.22 742.58L1471.5 746.23L1474.78 749.8L1478.06 753.28L1481.34 756.69L1484.62 760.02L1487.9 763.28L1491.18 766.46L1494.47 769.57L1497.75 772.61L1501.03 775.58L1504.31 778.49L1507.59 781.34L1510.87 784.12L1514.15 786.84L1517.43 789.5L1520.71 792.11L1523.99 794.65L1527.27 797.15L1530.56 799.59L1533.84 801.97L1537.12 804.31L1540.4 806.6L1543.68 808.84L1546.96 811.03L1550.24 813.17L1553.52 815.28L1556.8 817.33L1560.08 819.35L1563.37 821.32L1566.65 823.26L1569.93 825.15L1573.21 827L1576.49 828.82L1579.77 830.6L1583.05 832.35L1586.33 834.06L1589.61 835.74L1592.89 837.38L1596.17 838.99L1599.46 840.57L1602.74 842.12L1606.02 843.64L1609.3 845.13L1612.58 846.6L1615.86 848.03L1619.14 849.44L1622.42 850.82L1625.7 852.17L1628.98 853.5L1632.27 854.8L1635.55 856.08L1638.83 857.34L1642.11 858.57L1645.39 859.78L1648.67 860.97L1651.95 862.14L1655.23 863.28L1658.51 864.41L1661.79 865.51L1665.07 866.6L1668.36 867.67L1671.64 868.71L1674.92 869.74L1678.2 870.75L1681.48 871.75L1684.76 872.73L1688.04 873.69L1691.32 874.63L1694.6 875.56L1697.88 876.47L1701.16 877.36L1704.45 878.25L1707.73 879.11L1711.01 879.96L1714.29 880.8L1717.57 881.63L1720.85 882.44L1724.13 883.24L1727.41 884.02L1730.69 884.79L1733.97 885.55L1737.26 886.3L1740.54 887.03L1743.82 887.76L1747.1 888.47L1750.38 889.17L1753.66 889.86L1756.94 890.54L1760.22 891.21L1763.5 891.87L1766.78 892.52L1770.06 893.15L1773.35 893.78L1776.63 894.4L1779.91 895.01L1783.19 895.61L1786.47 896.2L1789.75 896.79L1793.03 897.36L1796.31 897.93L1799.59 898.48L1802.87 899.03L1806.15 899.57L1809.44 900.11L1812.72 900.63L1816 901.15L1819.28 901.66L1822.56 902.17L1825.84 902.66L1829.12 903.15L1832.4 903.63L1835.68 904.11L1838.96 904.58L1842.25 905.04L1845.53 905.49L1848.81 905.94L1852.09 906.39L1855.37 906.83L1858.65 907.26L1861.93 907.68L1865.21 908.1L1868.49 908.52L1871.77 908.92L1875.05 909.33L1878.34 909.73L1881.62 910.12L1884.9 910.5L1888.18 910.89L1891.46 911.26L1894.74 911.64L1898.02 912L1901.3 912.37L1904.58 912.72L1907.86 913.08L1911.14 913.43L1914.43 913.77L1917.71 914.11L1920.99 914.45L1924.27 914.78L1927.55 915.11L1930.83 915.43L1934.11 915.75L1937.39 916.06L1940.67 916.38L1943.95 916.68L1947.24 916.99L1950.52 917.29L1953.8 917.58L1957.08 917.88L1960.36 918.17L1963.64 918.45" fill="none" stroke="#0000ff" stroke-width="3.9" stroke-dasharray="12.4 10" stroke-linejoin="round"/>
<path d="M428.16 899.21L444.41 928.01H411.91ZM470.74 895.22L486.99 924.02H454.49ZM513.32 890.5L529.57 919.3H497.07ZM555.9 884.9L572.15 913.7H539.65ZM598.48 878.17L614.73 906.97H582.23ZM641.06 870.01L657.31 898.81H624.81ZM683.64 859.99L699.89 888.79H667.39ZM726.22 847.53L742.47 876.33H709.97ZM768.8 831.82L785.05 860.62H752.55ZM811.38 811.71L827.63 840.51H795.13ZM853.96 785.58L870.21 814.38H837.71ZM896.54 751.07L912.79 779.87H880.29ZM939.12 704.88L955.37 733.68H922.87ZM981.7 642.56L997.95 671.36H965.45ZM1024.28 559L1040.53 587.8H1008.03ZM1066.86 451.13L1083.11 479.93H1050.61ZM1109.44 325.71L1125.69 354.51H1093.19ZM1152.02 212.35L1168.27 241.15H1135.77ZM1194.6 162.51L1210.85 191.31H1178.35ZM1237.18 206.94L1253.43 235.74H1220.93ZM1279.76 317.99L1296.01 346.79H1263.51ZM1322.34 443.81L1338.59 472.61H1306.09ZM1364.92 553.12L1381.17 581.92H1348.67ZM1407.5 638.11L1423.75 666.91H1391.25ZM1450.08 701.59L1466.33 730.39H1433.83ZM1492.66 748.63L1508.91 777.43H1476.41ZM1535.24 783.74L1551.49 812.54H1518.99ZM1577.82 810.31L1594.07 839.11H1561.57ZM1620.4 830.73L1636.65 859.53H1604.15ZM1662.98 846.67L1679.23 875.47H1646.73ZM1705.56 859.3L1721.81 888.1H1689.31ZM1748.14 869.46L1764.39 898.26H1731.89ZM1790.72 877.72L1806.97 906.52H1774.47ZM1833.3 884.52L1849.55 913.32H1817.05ZM1875.88 890.19L1892.13 918.99H1859.63ZM1918.46 894.95L1934.71 923.75H1902.21ZM1961.04 898.99L1977.29 927.79H1944.79Z" fill="#cc33ff" stroke="#ff0000" stroke-width="1.7"/>
<text x="400.5" y="202.9" font-size="73" text-anchor="end">0.0000</text>
<text x="400.5" y="374.36" font-size="73" text-anchor="end">-0.0002</text>
<text x="400.5" y="545.82" font-size="73" text-anchor="end">-0.0004</text>
<text x="400.5" y="717.28" font-size="73" text-anchor="end">-0.0006</text>
<text x="400.5" y="888.74" font-size="73" text-anchor="end">-0.0008</text>
<text x="400.5" y="1060.2" font-size="73" text-anchor="end">-0.0010</text>
<text x="400.5" y="1231.66" font-size="73" text-anchor="end">-0.0012</text>
<text x="528.3" y="1362.5" font-size="73" text-anchor="middle">-4</text>
<text x="695.2" y="1362.5" font-size="73" text-anchor="middle">-3</text>
<text x="862.1" y="1362.5" font-size="73" text-anchor="middle">-2</text>
<text x="1029" y="1362.5" font-size="73" text-anchor="middle">-1</text>
<text x="1195.9" y="1362.5" font-size="73" text-anchor="middle">0</text>
<text x="1362.8" y="1362.5" font-size="73" text-anchor="middle">1</text>
<text x="1529.7" y="1362.5" font-size="73" text-anchor="middle">2</text>
<text x="1696.6" y="1362.5" font-size="73" text-anchor="middle">3</text>
<text x="1863.5" y="1362.5" font-size="73" text-anchor="middle">4</text>
<text x="1195.9" y="1474" font-size="104" text-anchor="middle" font-family='"Liberation Serif", "Times New Roman", Times, serif'>ε</text>
<text transform="translate(106.6 660.8) rotate(-90)" font-size="88" text-anchor="middle">Energy</text>
<text x="478.5" y="146.7" font-size="88" font-weight="bold">(a)</text>
<text x="536" y="372.8" font-size="73"><tspan font-family='"Liberation Serif", "Times New Roman", Times, serif' font-size="78">λ</tspan><tspan dx="1.5">=0.01</tspan></text>
<text x="536" y="612" font-size="73"><tspan font-family='"Liberation Serif", "Times New Roman", Times, serif' font-size="78">λ</tspan><tspan dx="1.5">=0.02</tspan></text>
<text x="536" y="1007" font-size="73"><tspan font-family='"Liberation Serif", "Times New Roman", Times, serif' font-size="78">λ</tspan><tspan dx="1.5">=0.03</tspan></text>
<path d="M1432 866.8L1611 848M1432 1121L1606 857" stroke="#ff8000" stroke-width="3.8" stroke-dasharray="4.3 5.9" fill="none"/>
<rect x="1575.6" y="560" width="353.3" height="221.4" fill="#fff" stroke="#000" stroke-width="4.3"/>
<path d="M1596.3 623.7H1741.4" stroke="#ff0000" stroke-width="4.2" fill="none"/>
<circle cx="1668.7" cy="623.7" r="13.8" fill="#669900" stroke="#0000ff" stroke-width="2.2"/>
<path d="M1596.3 730.5H1741.4" stroke="#0000ff" stroke-width="3.7" stroke-dasharray="11 11.1" fill="none"/>
<path d="M1668.7 712.07L1684.95 740.47H1652.45Z" fill="#cc33ff" stroke="#ff0000" stroke-width="1.9"/>
<text x="1760.8" y="650.7" font-size="80.5">E</text>
<text x="1814" y="618" font-size="52.5">add</text>
<text x="1820.5" y="666.5" font-size="60">+</text>
<text x="1760.8" y="757.5" font-size="80.5">E</text>
<text x="1814" y="724.8" font-size="52.5">add</text>
<text x="1820.5" y="775.9" font-size="60">−</text>
<rect x="1109.3" y="866.8" width="322.7" height="254.3" fill="#fff" stroke="#000" stroke-width="3.8"/>
<path d="M1109.3 877.8h17.3M1109.3 988h17.3M1109.3 1099.7h17.3M1109.3 933.1h9M1109.3 1044.1h9M1270.6 1121.1v-17.3M1189.9 1121.1v-9M1351.3 1121.1v-9" stroke="#000" stroke-width="3.6" fill="none"/>
<path d="M1109.3 957.3L1432.02 1033.1" stroke="#ff0000" stroke-width="3.7" fill="none"/>
<g fill="#669900" stroke="#3333ff" stroke-width="1.8"><circle cx="1109.3" cy="957.3" r="10.8"/><circle cx="1189.98" cy="976.25" r="10.8"/><circle cx="1270.66" cy="995.2" r="10.8"/><circle cx="1351.34" cy="1014.15" r="10.8"/><circle cx="1432.02" cy="1033.1" r="10.8"/></g>
<path d="M1109.3 989L1432.02 1064.5" stroke="#0000ff" stroke-width="3.7" stroke-dasharray="12 10" stroke-dashoffset="2.9" fill="none"/>
<path d="M1109.3 974.76L1122.55 997.36H1096.05ZM1189.98 993.64L1203.23 1016.24H1176.73ZM1270.66 1012.51L1283.91 1035.11H1257.41ZM1351.34 1031.39L1364.59 1053.99H1338.09ZM1432.02 1050.26L1445.27 1072.86H1418.77Z" fill="#cc33ff" stroke="#ff3366" stroke-width="1.8"/>
<text x="1089.3" y="888" font-size="38.1" text-anchor="end">-0.000775</text>
<text x="1089.3" y="998.2" font-size="38.1" text-anchor="end">-0.000776</text>
<text x="1089.3" y="1109.9" font-size="38.1" text-anchor="end">-0.000777</text>
<text x="1109.3" y="1171.3" font-size="38" text-anchor="middle">2.500</text>
<text x="1270.6" y="1171.3" font-size="38" text-anchor="middle">2.504</text>
<text x="1432" y="1171.3" font-size="38" text-anchor="middle">2.508</text>
<text x="1267.65" y="1216" font-size="57" text-anchor="middle" font-family='"Liberation Serif", "Times New Roman", Times, serif'>ε</text>
<text transform="translate(891 994.5) rotate(-90)" font-size="45" text-anchor="middle">Energy</text>
</g>
<g id="panel-b">
<path d="M456.5 1741.4H1963.6" stroke="#808080" stroke-width="5.8" stroke-dasharray="16.5 11.87" fill="none"/>
<rect x="428" y="1604" width="1535.6" height="1237" fill="none" stroke="#000" stroke-width="4.5"/>
<path d="M428 1741.3h23.5M428 1954.92h23.5M428 2168.54h23.5M428 2382.16h23.5M428 2595.78h23.5M428 2809.4h23.5M428 1634.49h12M428 1848.11h12M428 2061.73h12M428 2275.35h12M428 2488.97h12M428 2702.59h12M811.9 2841v-24.5M1195.8 2841v-24.5M1579.7 2841v-24.5M619.95 2841v-12.5M1003.85 2841v-12.5M1387.75 2841v-12.5M1771.65 2841v-12.5" stroke="#000" stroke-width="3.7" fill="none"/>
<path d="M428 1848.11L431.49 1848.11L434.98 1848.1L438.47 1848.08L441.96 1848.05L445.45 1848.02L448.94 1847.98L452.43 1847.94L455.92 1847.89L459.41 1847.83L462.9 1847.76L466.39 1847.69L469.88 1847.61L473.37 1847.52L476.86 1847.43L480.35 1847.33L483.84 1847.22L487.33 1847.11L490.82 1846.99L494.31 1846.86L497.8 1846.73L501.29 1846.59L504.78 1846.45L508.27 1846.29L511.76 1846.14L515.25 1845.97L518.74 1845.8L522.23 1845.62L525.72 1845.44L529.21 1845.25L532.7 1845.06L536.19 1844.86L539.68 1844.65L543.17 1844.44L546.66 1844.22L550.15 1844L553.64 1843.77L557.13 1843.53L560.62 1843.29L564.11 1843.05L567.6 1842.8L571.09 1842.54L574.58 1842.28L578.07 1842.02L581.56 1841.75L585.05 1841.48L588.54 1841.2L592.03 1840.91L595.52 1840.63L599.01 1840.33L602.5 1840.04L605.99 1839.74L609.48 1839.43L612.97 1839.12L616.46 1838.81L619.95 1838.49L623.44 1838.17L626.93 1837.85L630.42 1837.52L633.91 1837.19L637.4 1836.86L640.89 1836.52L644.38 1836.18L647.87 1835.84L651.36 1835.49L654.85 1835.14L658.34 1834.79L661.83 1834.44L665.32 1834.08L668.81 1833.72L672.3 1833.36L675.79 1832.99L679.28 1832.63L682.77 1832.26L686.26 1831.89L689.75 1831.51L693.24 1831.14L696.73 1830.76L700.22 1830.39L703.71 1830.01L707.2 1829.62L710.69 1829.24L714.18 1828.86L717.67 1828.47L721.16 1828.08L724.65 1827.7L728.14 1827.31L731.63 1826.92L735.12 1826.53L738.61 1826.13L742.1 1825.74L745.59 1825.35L749.08 1824.95L752.57 1824.56L756.06 1824.17L759.55 1823.77L763.04 1823.37L766.53 1822.98L770.02 1822.58L773.51 1822.18L777 1821.79L780.49 1821.39L783.98 1820.99L787.47 1820.6L790.96 1820.2L794.45 1819.81L797.94 1819.41L801.43 1819.01L804.92 1818.62L808.41 1818.22L811.9 1817.83L815.39 1817.43L818.88 1817.04L822.37 1816.65L825.86 1816.25L829.35 1815.86L832.84 1815.47L836.33 1815.08L839.82 1814.69L843.31 1814.3L846.8 1813.91L850.29 1813.53L853.78 1813.14L857.27 1812.76L860.76 1812.37L864.25 1811.99L867.74 1811.61L871.23 1811.23L874.72 1810.85L878.21 1810.47L881.7 1810.09L885.19 1809.72L888.68 1809.34L892.17 1808.97L895.66 1808.59L899.15 1808.22L902.64 1807.85L906.13 1807.49L909.62 1807.12L913.11 1806.75L916.6 1806.39L920.09 1806.03L923.58 1805.67L927.07 1805.31L930.56 1804.95L934.05 1804.59L937.54 1804.24L941.03 1803.88L944.52 1803.53L948.01 1803.18L951.5 1802.83L954.99 1802.49L958.48 1802.14L961.97 1801.8L965.46 1801.46L968.95 1801.11L972.44 1800.78L975.93 1800.44L979.42 1800.1L982.91 1799.77L986.4 1799.44L989.89 1799.11L993.38 1798.78L996.87 1798.45L1000.36 1798.13L1003.85 1797.8L1007.34 1797.48L1010.83 1797.16L1014.32 1796.84L1017.81 1796.53L1021.3 1796.21L1024.79 1795.9L1028.28 1795.59L1031.77 1795.28L1035.26 1794.97L1038.75 1794.66L1042.24 1794.36L1045.73 1794.06L1049.22 1793.76L1052.71 1793.46L1056.2 1793.16L1059.69 1792.87L1063.18 1792.57L1066.67 1792.28L1070.16 1791.99L1073.65 1791.7L1077.14 1791.41L1080.63 1791.13L1084.12 1790.84L1087.61 1790.56L1091.1 1790.28L1094.59 1790L1098.08 1789.73L1101.57 1789.45L1105.06 1789.18L1108.55 1788.91L1112.04 1788.64L1115.53 1788.37L1119.02 1788.1L1122.51 1787.84L1126 1787.58L1129.49 1787.31L1132.98 1787.05L1136.47 1786.8L1139.96 1786.54L1143.45 1786.29L1146.94 1786.03L1150.43 1785.78L1153.92 1785.53L1157.41 1785.28L1160.9 1785.04L1164.39 1784.79L1167.88 1784.55L1171.37 1784.3L1174.86 1784.06L1178.35 1783.83L1181.84 1783.59L1185.33 1783.35L1188.82 1783.12L1192.31 1782.89L1195.8 1782.65L1199.29 1782.42L1202.78 1782.2L1206.27 1781.97L1209.76 1781.74L1213.25 1781.52L1216.74 1781.3L1220.23 1781.08L1223.72 1780.86L1227.21 1780.64L1230.7 1780.43L1234.19 1780.21L1237.68 1780L1241.17 1779.78L1244.66 1779.57L1248.15 1779.36L1251.64 1779.16L1255.13 1778.95L1258.62 1778.75L1262.11 1778.54L1265.6 1778.34L1269.09 1778.14L1272.58 1777.94L1276.07 1777.74L1279.56 1777.54L1283.05 1777.35L1286.54 1777.15L1290.03 1776.96L1293.52 1776.77L1297.01 1776.58L1300.5 1776.39L1303.99 1776.2L1307.48 1776.02L1310.97 1775.83L1314.46 1775.65L1317.95 1775.46L1321.44 1775.28L1324.93 1775.1L1328.42 1774.92L1331.91 1774.74L1335.4 1774.57L1338.89 1774.39L1342.38 1774.22L1345.87 1774.04L1349.36 1773.87L1352.85 1773.7L1356.34 1773.53L1359.83 1773.36L1363.32 1773.19L1366.81 1773.03L1370.3 1772.86L1373.79 1772.7L1377.28 1772.54L1380.77 1772.37L1384.26 1772.21L1387.75 1772.05L1391.24 1771.89L1394.73 1771.74L1398.22 1771.58L1401.71 1771.42L1405.2 1771.27L1408.69 1771.12L1412.18 1770.96L1415.67 1770.81L1419.16 1770.66L1422.65 1770.51L1426.14 1770.36L1429.63 1770.22L1433.12 1770.07L1436.61 1769.93L1440.1 1769.78L1443.59 1769.64L1447.08 1769.49L1450.57 1769.35L1454.06 1769.21L1457.55 1769.07L1461.04 1768.93L1464.53 1768.8L1468.02 1768.66L1471.51 1768.52L1475 1768.39L1478.49 1768.25L1481.98 1768.12L1485.47 1767.99L1488.96 1767.85L1492.45 1767.72L1495.94 1767.59L1499.43 1767.46L1502.92 1767.34L1506.41 1767.21L1509.9 1767.08L1513.39 1766.96L1516.88 1766.83L1520.37 1766.71L1523.86 1766.58L1527.35 1766.46L1530.84 1766.34L1534.33 1766.22L1537.82 1766.1L1541.31 1765.98L1544.8 1765.86L1548.29 1765.74L1551.78 1765.63L1555.27 1765.51L1558.76 1765.39L1562.25 1765.28L1565.74 1765.17L1569.23 1765.05L1572.72 1764.94L1576.21 1764.83L1579.7 1764.72L1583.19 1764.61L1586.68 1764.5L1590.17 1764.39L1593.66 1764.28L1597.15 1764.17L1600.64 1764.06L1604.13 1763.96L1607.62 1763.85L1611.11 1763.75L1614.6 1763.64L1618.09 1763.54L1621.58 1763.44L1625.07 1763.33L1628.56 1763.23L1632.05 1763.13L1635.54 1763.03L1639.03 1762.93L1642.52 1762.83L1646.01 1762.73L1649.5 1762.64L1652.99 1762.54L1656.48 1762.44L1659.97 1762.35L1663.46 1762.25L1666.95 1762.16L1670.44 1762.06L1673.93 1761.97L1677.42 1761.87L1680.91 1761.78L1684.4 1761.69L1687.89 1761.6L1691.38 1761.51L1694.87 1761.42L1698.36 1761.33L1701.85 1761.24L1705.34 1761.15L1708.83 1761.06L1712.32 1760.98L1715.81 1760.89L1719.3 1760.8L1722.79 1760.72L1726.28 1760.63L1729.77 1760.55L1733.26 1760.46L1736.75 1760.38L1740.24 1760.29L1743.73 1760.21L1747.22 1760.13L1750.71 1760.05L1754.2 1759.97L1757.69 1759.88L1761.18 1759.8L1764.67 1759.72L1768.16 1759.65L1771.65 1759.57L1775.14 1759.49L1778.63 1759.41L1782.12 1759.33L1785.61 1759.26L1789.1 1759.18L1792.59 1759.1L1796.08 1759.03L1799.57 1758.95L1803.06 1758.88L1806.55 1758.8L1810.04 1758.73L1813.53 1758.66L1817.02 1758.58L1820.51 1758.51L1824 1758.44L1827.49 1758.37L1830.98 1758.29L1834.47 1758.22L1837.96 1758.15L1841.45 1758.08L1844.94 1758.01L1848.43 1757.94L1851.92 1757.88L1855.41 1757.81L1858.9 1757.74L1862.39 1757.67L1865.88 1757.6L1869.37 1757.54L1872.86 1757.47L1876.35 1757.4L1879.84 1757.34L1883.33 1757.27L1886.82 1757.21L1890.31 1757.14L1893.8 1757.08L1897.29 1757.02L1900.78 1756.95L1904.27 1756.89L1907.76 1756.83L1911.25 1756.76L1914.74 1756.7L1918.23 1756.64L1921.72 1756.58L1925.21 1756.52L1928.7 1756.46L1932.19 1756.4L1935.68 1756.34L1939.17 1756.28L1942.66 1756.22L1946.15 1756.16L1949.64 1756.1L1953.13 1756.04L1956.62 1755.98L1960.11 1755.93L1963.6 1755.87" fill="none" stroke="#ff0000" stroke-width="3.9" stroke-linejoin="round"/>
<g fill="#669900" stroke="#0000ff" stroke-width="2.1"><circle cx="428" cy="1848.11" r="13.9"/><circle cx="504.78" cy="1846.45" r="13.9"/><circle cx="581.56" cy="1841.75" r="13.9"/><circle cx="658.34" cy="1834.79" r="13.9"/><circle cx="735.12" cy="1826.53" r="13.9"/><circle cx="811.9" cy="1817.83" r="13.9"/><circle cx="888.68" cy="1809.34" r="13.9"/><circle cx="965.46" cy="1801.46" r="13.9"/><circle cx="1042.24" cy="1794.36" r="13.9"/><circle cx="1119.02" cy="1788.1" r="13.9"/><circle cx="1195.8" cy="1782.65" r="13.9"/><circle cx="1272.58" cy="1777.94" r="13.9"/><circle cx="1349.36" cy="1773.87" r="13.9"/><circle cx="1426.14" cy="1770.36" r="13.9"/><circle cx="1502.92" cy="1767.34" r="13.9"/><circle cx="1579.7" cy="1764.72" r="13.9"/><circle cx="1656.48" cy="1762.44" r="13.9"/><circle cx="1733.26" cy="1760.46" r="13.9"/><circle cx="1810.04" cy="1758.73" r="13.9"/><circle cx="1886.82" cy="1757.21" r="13.9"/><circle cx="1963.6" cy="1755.87" r="13.9"/></g>
<path d="M428 1848.11L431.49 1848.11L434.98 1848.1L438.47 1848.08L441.96 1848.05L445.45 1848.02L448.94 1847.98L452.43 1847.94L455.92 1847.89L459.41 1847.83L462.9 1847.76L466.39 1847.69L469.88 1847.61L473.37 1847.52L476.86 1847.43L480.35 1847.33L483.84 1847.22L487.33 1847.11L490.82 1846.99L494.31 1846.86L497.8 1846.73L501.29 1846.59L504.78 1846.45L508.27 1846.29L511.76 1846.14L515.25 1845.97L518.74 1845.8L522.23 1845.62L525.72 1845.44L529.21 1845.25L532.7 1845.06L536.19 1844.86L539.68 1844.65L543.17 1844.44L546.66 1844.22L550.15 1844L553.64 1843.77L557.13 1843.53L560.62 1843.29L564.11 1843.05L567.6 1842.8L571.09 1842.54L574.58 1842.28L578.07 1842.02L581.56 1841.75L585.05 1841.48L588.54 1841.2L592.03 1840.91L595.52 1840.63L599.01 1840.33L602.5 1840.04L605.99 1839.74L609.48 1839.43L612.97 1839.12L616.46 1838.81L619.95 1838.49L623.44 1838.17L626.93 1837.85L630.42 1837.52L633.91 1837.19L637.4 1836.86L640.89 1836.52L644.38 1836.18L647.87 1835.84L651.36 1835.49L654.85 1835.14L658.34 1834.79L661.83 1834.44L665.32 1834.08L668.81 1833.72L672.3 1833.36L675.79 1832.99L679.28 1832.63L682.77 1832.26L686.26 1831.89L689.75 1831.51L693.24 1831.14L696.73 1830.76L700.22 1830.39L703.71 1830.01L707.2 1829.62L710.69 1829.24L714.18 1828.86L717.67 1828.47L721.16 1828.08L724.65 1827.7L728.14 1827.31L731.63 1826.92L735.12 1826.53L738.61 1826.13L742.1 1825.74L745.59 1825.35L749.08 1824.95L752.57 1824.56L756.06 1824.17L759.55 1823.77L763.04 1823.37L766.53 1822.98L770.02 1822.58L773.51 1822.18L777 1821.79L780.49 1821.39L783.98 1820.99L787.47 1820.6L790.96 1820.2L794.45 1819.81L797.94 1819.41L801.43 1819.01L804.92 1818.62L808.41 1818.22L811.9 1817.83L815.39 1817.43L818.88 1817.04L822.37 1816.65L825.86 1816.25L829.35 1815.86L832.84 1815.47L836.33 1815.08L839.82 1814.69L843.31 1814.3L846.8 1813.91L850.29 1813.53L853.78 1813.14L857.27 1812.76L860.76 1812.37L864.25 1811.99L867.74 1811.61L871.23 1811.23L874.72 1810.85L878.21 1810.47L881.7 1810.09L885.19 1809.72L888.68 1809.34L892.17 1808.97L895.66 1808.59L899.15 1808.22L902.64 1807.85L906.13 1807.49L909.62 1807.12L913.11 1806.75L916.6 1806.39L920.09 1806.03L923.58 1805.67L927.07 1805.31L930.56 1804.95L934.05 1804.59L937.54 1804.24L941.03 1803.88L944.52 1803.53L948.01 1803.18L951.5 1802.83L954.99 1802.49L958.48 1802.14L961.97 1801.8L965.46 1801.46L968.95 1801.11L972.44 1800.78L975.93 1800.44L979.42 1800.1L982.91 1799.77L986.4 1799.44L989.89 1799.11L993.38 1798.78L996.87 1798.45L1000.36 1798.13L1003.85 1797.8L1007.34 1797.48L1010.83 1797.16L1014.32 1796.84L1017.81 1796.53L1021.3 1796.21L1024.79 1795.9L1028.28 1795.59L1031.77 1795.28L1035.26 1794.97L1038.75 1794.66L1042.24 1794.36L1045.73 1794.06L1049.22 1793.76L1052.71 1793.46L1056.2 1793.16L1059.69 1792.87L1063.18 1792.57L1066.67 1792.28L1070.16 1791.99L1073.65 1791.7L1077.14 1791.41L1080.63 1791.13L1084.12 1790.84L1087.61 1790.56L1091.1 1790.28L1094.59 1790L1098.08 1789.73L1101.57 1789.45L1105.06 1789.18L1108.55 1788.91L1112.04 1788.64L1115.53 1788.37L1119.02 1788.1L1122.51 1787.84L1126 1787.58L1129.49 1787.31L1132.98 1787.05L1136.47 1786.8L1139.96 1786.54L1143.45 1786.29L1146.94 1786.03L1150.43 1785.78L1153.92 1785.53L1157.41 1785.28L1160.9 1785.04L1164.39 1784.79L1167.88 1784.55L1171.37 1784.3L1174.86 1784.06L1178.35 1783.83L1181.84 1783.59L1185.33 1783.35L1188.82 1783.12L1192.31 1782.89L1195.8 1782.65L1199.29 1782.42L1202.78 1782.2L1206.27 1781.97L1209.76 1781.74L1213.25 1781.52L1216.74 1781.3L1220.23 1781.08L1223.72 1780.86L1227.21 1780.64L1230.7 1780.43L1234.19 1780.21L1237.68 1780L1241.17 1779.78L1244.66 1779.57L1248.15 1779.36L1251.64 1779.16L1255.13 1778.95L1258.62 1778.75L1262.11 1778.54L1265.6 1778.34L1269.09 1778.14L1272.58 1777.94L1276.07 1777.74L1279.56 1777.54L1283.05 1777.35L1286.54 1777.15L1290.03 1776.96L1293.52 1776.77L1297.01 1776.58L1300.5 1776.39L1303.99 1776.2L1307.48 1776.02L1310.97 1775.83L1314.46 1775.65L1317.95 1775.46L1321.44 1775.28L1324.93 1775.1L1328.42 1774.92L1331.91 1774.74L1335.4 1774.57L1338.89 1774.39L1342.38 1774.22L1345.87 1774.04L1349.36 1773.87L1352.85 1773.7L1356.34 1773.53L1359.83 1773.36L1363.32 1773.19L1366.81 1773.03L1370.3 1772.86L1373.79 1772.7L1377.28 1772.54L1380.77 1772.37L1384.26 1772.21L1387.75 1772.05L1391.24 1771.89L1394.73 1771.74L1398.22 1771.58L1401.71 1771.42L1405.2 1771.27L1408.69 1771.12L1412.18 1770.96L1415.67 1770.81L1419.16 1770.66L1422.65 1770.51L1426.14 1770.36L1429.63 1770.22L1433.12 1770.07L1436.61 1769.93L1440.1 1769.78L1443.59 1769.64L1447.08 1769.49L1450.57 1769.35L1454.06 1769.21L1457.55 1769.07L1461.04 1768.93L1464.53 1768.8L1468.02 1768.66L1471.51 1768.52L1475 1768.39L1478.49 1768.25L1481.98 1768.12L1485.47 1767.99L1488.96 1767.85L1492.45 1767.72L1495.94 1767.59L1499.43 1767.46L1502.92 1767.34L1506.41 1767.21L1509.9 1767.08L1513.39 1766.96L1516.88 1766.83L1520.37 1766.71L1523.86 1766.58L1527.35 1766.46L1530.84 1766.34L1534.33 1766.22L1537.82 1766.1L1541.31 1765.98L1544.8 1765.86L1548.29 1765.74L1551.78 1765.63L1555.27 1765.51L1558.76 1765.39L1562.25 1765.28L1565.74 1765.17L1569.23 1765.05L1572.72 1764.94L1576.21 1764.83L1579.7 1764.72L1583.19 1764.61L1586.68 1764.5L1590.17 1764.39L1593.66 1764.28L1597.15 1764.17L1600.64 1764.06L1604.13 1763.96L1607.62 1763.85L1611.11 1763.75L1614.6 1763.64L1618.09 1763.54L1621.58 1763.44L1625.07 1763.33L1628.56 1763.23L1632.05 1763.13L1635.54 1763.03L1639.03 1762.93L1642.52 1762.83L1646.01 1762.73L1649.5 1762.64L1652.99 1762.54L1656.48 1762.44L1659.97 1762.35L1663.46 1762.25L1666.95 1762.16L1670.44 1762.06L1673.93 1761.97L1677.42 1761.87L1680.91 1761.78L1684.4 1761.69L1687.89 1761.6L1691.38 1761.51L1694.87 1761.42L1698.36 1761.33L1701.85 1761.24L1705.34 1761.15L1708.83 1761.06L1712.32 1760.98L1715.81 1760.89L1719.3 1760.8L1722.79 1760.72L1726.28 1760.63L1729.77 1760.55L1733.26 1760.46L1736.75 1760.38L1740.24 1760.29L1743.73 1760.21L1747.22 1760.13L1750.71 1760.05L1754.2 1759.97L1757.69 1759.88L1761.18 1759.8L1764.67 1759.72L1768.16 1759.65L1771.65 1759.57L1775.14 1759.49L1778.63 1759.41L1782.12 1759.33L1785.61 1759.26L1789.1 1759.18L1792.59 1759.1L1796.08 1759.03L1799.57 1758.95L1803.06 1758.88L1806.55 1758.8L1810.04 1758.73L1813.53 1758.66L1817.02 1758.58L1820.51 1758.51L1824 1758.44L1827.49 1758.37L1830.98 1758.29L1834.47 1758.22L1837.96 1758.15L1841.45 1758.08L1844.94 1758.01L1848.43 1757.94L1851.92 1757.88L1855.41 1757.81L1858.9 1757.74L1862.39 1757.67L1865.88 1757.6L1869.37 1757.54L1872.86 1757.47L1876.35 1757.4L1879.84 1757.34L1883.33 1757.27L1886.82 1757.21L1890.31 1757.14L1893.8 1757.08L1897.29 1757.02L1900.78 1756.95L1904.27 1756.89L1907.76 1756.83L1911.25 1756.76L1914.74 1756.7L1918.23 1756.64L1921.72 1756.58L1925.21 1756.52L1928.7 1756.46L1932.19 1756.4L1935.68 1756.34L1939.17 1756.28L1942.66 1756.22L1946.15 1756.16L1949.64 1756.1L1953.13 1756.04L1956.62 1755.98L1960.11 1755.93L1963.6 1755.87" fill="none" stroke="#0000ff" stroke-width="3.9" stroke-dasharray="12.4 10" stroke-linejoin="round"/>
<path d="M428 1828.87L444.25 1857.67H411.75ZM508.23 1827.06L524.48 1855.86H491.98ZM588.45 1821.97L604.7 1850.77H572.2ZM668.68 1814.5L684.93 1843.3H652.43ZM748.9 1805.74L765.15 1834.54H732.65ZM829.13 1796.65L845.38 1825.45H812.88ZM909.36 1787.91L925.61 1816.71H893.11ZM989.58 1779.9L1005.83 1808.7H973.33ZM1069.81 1772.78L1086.06 1801.58H1053.56ZM1150.03 1766.57L1166.28 1795.37H1133.78ZM1230.26 1761.21L1246.51 1790.01H1214.01ZM1310.49 1756.62L1326.74 1785.42H1294.24ZM1390.71 1752.68L1406.96 1781.48H1374.46ZM1470.94 1749.31L1487.19 1778.11H1454.69ZM1551.16 1746.41L1567.41 1775.21H1534.91ZM1631.39 1743.91L1647.64 1772.71H1615.14ZM1711.62 1741.75L1727.87 1770.55H1695.37ZM1791.84 1739.88L1808.09 1768.68H1775.59ZM1872.07 1738.25L1888.32 1767.05H1855.82ZM1952.29 1736.82L1968.54 1765.62H1936.04Z" fill="#cc33ff" stroke="#ff0000" stroke-width="1.7"/>
<path d="M428 2168.54L431.47 2168.53L434.95 2168.48L438.42 2168.42L441.9 2168.32L445.37 2168.19L448.85 2168.04L452.32 2167.86L455.79 2167.66L459.27 2167.42L462.74 2167.16L466.22 2166.87L469.69 2166.56L473.16 2166.21L476.64 2165.84L480.11 2165.45L483.59 2165.02L487.06 2164.58L490.54 2164.1L494.01 2163.6L497.48 2163.07L500.96 2162.52L504.43 2161.94L507.91 2161.34L511.38 2160.71L514.86 2160.06L518.33 2159.38L521.8 2158.68L525.28 2157.95L528.75 2157.2L532.23 2156.43L535.7 2155.64L539.17 2154.82L542.65 2153.98L546.12 2153.11L549.6 2152.23L553.07 2151.32L556.55 2150.39L560.02 2149.44L563.49 2148.47L566.97 2147.48L570.44 2146.47L573.92 2145.44L577.39 2144.39L580.87 2143.32L584.34 2142.23L587.81 2141.12L591.29 2140L594.76 2138.86L598.24 2137.7L601.71 2136.52L605.18 2135.33L608.66 2134.12L612.13 2132.89L615.61 2131.65L619.08 2130.4L622.56 2129.13L626.03 2127.84L629.5 2126.54L632.98 2125.23L636.45 2123.9L639.93 2122.56L643.4 2121.21L646.88 2119.85L650.35 2118.47L653.82 2117.09L657.3 2115.69L660.77 2114.28L664.25 2112.86L667.72 2111.43L671.19 2109.99L674.67 2108.55L678.14 2107.09L681.62 2105.62L685.09 2104.15L688.57 2102.67L692.04 2101.18L695.51 2099.68L698.99 2098.18L702.46 2096.67L705.94 2095.15L709.41 2093.63L712.89 2092.1L716.36 2090.57L719.83 2089.03L723.31 2087.48L726.78 2085.94L730.26 2084.38L733.73 2082.83L737.2 2081.27L740.68 2079.71L744.15 2078.14L747.63 2076.58L751.1 2075.01L754.58 2073.43L758.05 2071.86L761.52 2070.28L765 2068.71L768.47 2067.13L771.95 2065.55L775.42 2063.97L778.9 2062.39L782.37 2060.81L785.84 2059.23L789.32 2057.65L792.79 2056.07L796.27 2054.5L799.74 2052.92L803.21 2051.34L806.69 2049.77L810.16 2048.2L813.64 2046.63L817.11 2045.06L820.59 2043.49L824.06 2041.93L827.53 2040.37L831.01 2038.81L834.48 2037.25L837.96 2035.7L841.43 2034.15L844.9 2032.6L848.38 2031.06L851.85 2029.52L855.33 2027.98L858.8 2026.45L862.28 2024.92L865.75 2023.4L869.22 2021.88L872.7 2020.37L876.17 2018.86L879.65 2017.35L883.12 2015.85L886.6 2014.36L890.07 2012.87L893.54 2011.38L897.02 2009.9L900.49 2008.42L903.97 2006.96L907.44 2005.49L910.91 2004.03L914.39 2002.58L917.86 2001.13L921.34 1999.69L924.81 1998.26L928.29 1996.83L931.76 1995.4L935.23 1993.99L938.71 1992.58L942.18 1991.17L945.66 1989.77L949.13 1988.38L952.61 1986.99L956.08 1985.61L959.55 1984.24L963.03 1982.87L966.5 1981.51L969.98 1980.16L973.45 1978.81L976.92 1977.47L980.4 1976.14L983.87 1974.81L987.35 1973.49L990.82 1972.18L994.3 1970.87L997.77 1969.57L1001.24 1968.28L1004.72 1966.99L1008.19 1965.71L1011.67 1964.44L1015.14 1963.18L1018.62 1961.92L1022.09 1960.67L1025.56 1959.42L1029.04 1958.18L1032.51 1956.95L1035.99 1955.73L1039.46 1954.51L1042.93 1953.3L1046.41 1952.1L1049.88 1950.9L1053.36 1949.71L1056.83 1948.53L1060.31 1947.35L1063.78 1946.18L1067.25 1945.02L1070.73 1943.87L1074.2 1942.72L1077.68 1941.58L1081.15 1940.44L1084.63 1939.31L1088.1 1938.19L1091.57 1937.08L1095.05 1935.97L1098.52 1934.87L1102 1933.78L1105.47 1932.69L1108.94 1931.61L1112.42 1930.54L1115.89 1929.47L1119.37 1928.41L1122.84 1927.36L1126.32 1926.31L1129.79 1925.27L1133.26 1924.24L1136.74 1923.21L1140.21 1922.19L1143.69 1921.17L1147.16 1920.17L1150.64 1919.16L1154.11 1918.17L1157.58 1917.18L1161.06 1916.2L1164.53 1915.22L1168.01 1914.25L1171.48 1913.29L1174.95 1912.33L1178.43 1911.38L1181.9 1910.44L1185.38 1909.5L1188.85 1908.56L1192.33 1907.64L1195.8 1906.72L1199.27 1905.8L1202.75 1904.89L1206.22 1903.99L1209.7 1903.1L1213.17 1902.21L1216.65 1901.32L1220.12 1900.44L1223.59 1899.57L1227.07 1898.7L1230.54 1897.84L1234.02 1896.98L1237.49 1896.13L1240.96 1895.29L1244.44 1894.45L1247.91 1893.62L1251.39 1892.79L1254.86 1891.97L1258.34 1891.15L1261.81 1890.34L1265.28 1889.53L1268.76 1888.73L1272.23 1887.94L1275.71 1887.15L1279.18 1886.36L1282.66 1885.58L1286.13 1884.81L1289.6 1884.04L1293.08 1883.27L1296.55 1882.52L1300.03 1881.76L1303.5 1881.01L1306.97 1880.27L1310.45 1879.53L1313.92 1878.8L1317.4 1878.07L1320.87 1877.34L1324.35 1876.62L1327.82 1875.91L1331.29 1875.2L1334.77 1874.5L1338.24 1873.8L1341.72 1873.1L1345.19 1872.41L1348.67 1871.72L1352.14 1871.04L1355.61 1870.36L1359.09 1869.69L1362.56 1869.02L1366.04 1868.36L1369.51 1867.7L1372.98 1867.05L1376.46 1866.4L1379.93 1865.75L1383.41 1865.11L1386.88 1864.47L1390.36 1863.84L1393.83 1863.21L1397.3 1862.59L1400.78 1861.96L1404.25 1861.35L1407.73 1860.74L1411.2 1860.13L1414.68 1859.52L1418.15 1858.92L1421.62 1858.33L1425.1 1857.73L1428.57 1857.15L1432.05 1856.56L1435.52 1855.98L1438.99 1855.4L1442.47 1854.83L1445.94 1854.26L1449.42 1853.7L1452.89 1853.14L1456.37 1852.58L1459.84 1852.02L1463.31 1851.47L1466.79 1850.93L1470.26 1850.38L1473.74 1849.84L1477.21 1849.31L1480.69 1848.77L1484.16 1848.25L1487.63 1847.72L1491.11 1847.2L1494.58 1846.68L1498.06 1846.16L1501.53 1845.65L1505 1845.14L1508.48 1844.64L1511.95 1844.13L1515.43 1843.64L1518.9 1843.14L1522.38 1842.65L1525.85 1842.16L1529.32 1841.67L1532.8 1841.19L1536.27 1840.71L1539.75 1840.23L1543.22 1839.76L1546.7 1839.29L1550.17 1838.82L1553.64 1838.36L1557.12 1837.89L1560.59 1837.44L1564.07 1836.98L1567.54 1836.53L1571.01 1836.08L1574.49 1835.63L1577.96 1835.19L1581.44 1834.75L1584.91 1834.31L1588.39 1833.87L1591.86 1833.44L1595.33 1833.01L1598.81 1832.58L1602.28 1832.16L1605.76 1831.74L1609.23 1831.32L1612.7 1830.9L1616.18 1830.49L1619.65 1830.07L1623.13 1829.67L1626.6 1829.26L1630.08 1828.86L1633.55 1828.45L1637.02 1828.06L1640.5 1827.66L1643.97 1827.27L1647.45 1826.87L1650.92 1826.49L1654.4 1826.1L1657.87 1825.72L1661.34 1825.33L1664.82 1824.96L1668.29 1824.58L1671.77 1824.2L1675.24 1823.83L1678.71 1823.46L1682.19 1823.09L1685.66 1822.73L1689.14 1822.37L1692.61 1822.01L1696.09 1821.65L1699.56 1821.29L1703.03 1820.94L1706.51 1820.58L1709.98 1820.23L1713.46 1819.89L1716.93 1819.54L1720.41 1819.2L1723.88 1818.86L1727.35 1818.52L1730.83 1818.18L1734.3 1817.84L1737.78 1817.51L1741.25 1817.18L1744.72 1816.85L1748.2 1816.52L1751.67 1816.2L1755.15 1815.88L1758.62 1815.55L1762.1 1815.23L1765.57 1814.92L1769.04 1814.6L1772.52 1814.29L1775.99 1813.98L1779.47 1813.67L1782.94 1813.36L1786.42 1813.05L1789.89 1812.75L1793.36 1812.44L1796.84 1812.14L1800.31 1811.84L1803.79 1811.55L1807.26 1811.25L1810.73 1810.96L1814.21 1810.67L1817.68 1810.38L1821.16 1810.09L1824.63 1809.8L1828.11 1809.51L1831.58 1809.23L1835.05 1808.95L1838.53 1808.67L1842 1808.39L1845.48 1808.11L1848.95 1807.84L1852.43 1807.56L1855.9 1807.29L1859.37 1807.02L1862.85 1806.75L1866.32 1806.48L1869.8 1806.22L1873.27 1805.95L1876.74 1805.69L1880.22 1805.43L1883.69 1805.17L1887.17 1804.91L1890.64 1804.65L1894.12 1804.4L1897.59 1804.14L1901.06 1803.89L1904.54 1803.64L1908.01 1803.39L1911.49 1803.14L1914.96 1802.89L1918.44 1802.65L1921.91 1802.4L1925.38 1802.16L1928.86 1801.92L1932.33 1801.68L1935.81 1801.44L1939.28 1801.2L1942.75 1800.97L1946.23 1800.73L1949.7 1800.5L1953.18 1800.27L1956.65 1800.03L1960.13 1799.81L1963.6 1799.58" fill="none" stroke="#ff0000" stroke-width="3.9" stroke-linejoin="round"/>
<g fill="#669900" stroke="#0000ff" stroke-width="2.1"><circle cx="428" cy="2168.54" r="13.9"/><circle cx="500.94" cy="2162.52" r="13.9"/><circle cx="573.88" cy="2145.45" r="13.9"/><circle cx="646.82" cy="2119.87" r="13.9"/><circle cx="719.76" cy="2089.06" r="13.9"/><circle cx="792.7" cy="2056.12" r="13.9"/><circle cx="865.64" cy="2023.45" r="13.9"/><circle cx="938.58" cy="1992.63" r="13.9"/><circle cx="1011.52" cy="1964.5" r="13.9"/><circle cx="1084.46" cy="1939.37" r="13.9"/><circle cx="1157.4" cy="1917.23" r="13.9"/><circle cx="1230.34" cy="1897.89" r="13.9"/><circle cx="1303.28" cy="1881.06" r="13.9"/><circle cx="1376.22" cy="1866.44" r="13.9"/><circle cx="1449.16" cy="1853.74" r="13.9"/><circle cx="1522.1" cy="1842.69" r="13.9"/><circle cx="1595.04" cy="1833.05" r="13.9"/><circle cx="1667.98" cy="1824.61" r="13.9"/><circle cx="1740.92" cy="1817.21" r="13.9"/><circle cx="1813.86" cy="1810.69" r="13.9"/><circle cx="1886.8" cy="1804.94" r="13.9"/><circle cx="1959.74" cy="1799.83" r="13.9"/></g>
<path d="M428 2168.54L431.47 2168.53L434.95 2168.48L438.42 2168.42L441.9 2168.32L445.37 2168.19L448.85 2168.04L452.32 2167.86L455.79 2167.66L459.27 2167.42L462.74 2167.16L466.22 2166.87L469.69 2166.56L473.16 2166.21L476.64 2165.84L480.11 2165.45L483.59 2165.02L487.06 2164.58L490.54 2164.1L494.01 2163.6L497.48 2163.07L500.96 2162.52L504.43 2161.94L507.91 2161.34L511.38 2160.71L514.86 2160.06L518.33 2159.38L521.8 2158.68L525.28 2157.95L528.75 2157.2L532.23 2156.43L535.7 2155.64L539.17 2154.82L542.65 2153.98L546.12 2153.11L549.6 2152.23L553.07 2151.32L556.55 2150.39L560.02 2149.44L563.49 2148.47L566.97 2147.48L570.44 2146.47L573.92 2145.44L577.39 2144.39L580.87 2143.32L584.34 2142.23L587.81 2141.12L591.29 2140L594.76 2138.86L598.24 2137.7L601.71 2136.52L605.18 2135.33L608.66 2134.12L612.13 2132.89L615.61 2131.65L619.08 2130.4L622.56 2129.13L626.03 2127.84L629.5 2126.54L632.98 2125.23L636.45 2123.9L639.93 2122.56L643.4 2121.21L646.88 2119.85L650.35 2118.47L653.82 2117.09L657.3 2115.69L660.77 2114.28L664.25 2112.86L667.72 2111.43L671.19 2109.99L674.67 2108.55L678.14 2107.09L681.62 2105.62L685.09 2104.15L688.57 2102.67L692.04 2101.18L695.51 2099.68L698.99 2098.18L702.46 2096.67L705.94 2095.15L709.41 2093.63L712.89 2092.1L716.36 2090.57L719.83 2089.03L723.31 2087.48L726.78 2085.94L730.26 2084.38L733.73 2082.83L737.2 2081.27L740.68 2079.71L744.15 2078.14L747.63 2076.58L751.1 2075.01L754.58 2073.43L758.05 2071.86L761.52 2070.28L765 2068.71L768.47 2067.13L771.95 2065.55L775.42 2063.97L778.9 2062.39L782.37 2060.81L785.84 2059.23L789.32 2057.65L792.79 2056.07L796.27 2054.5L799.74 2052.92L803.21 2051.34L806.69 2049.77L810.16 2048.2L813.64 2046.63L817.11 2045.06L820.59 2043.49L824.06 2041.93L827.53 2040.37L831.01 2038.81L834.48 2037.25L837.96 2035.7L841.43 2034.15L844.9 2032.6L848.38 2031.06L851.85 2029.52L855.33 2027.98L858.8 2026.45L862.28 2024.92L865.75 2023.4L869.22 2021.88L872.7 2020.37L876.17 2018.86L879.65 2017.35L883.12 2015.85L886.6 2014.36L890.07 2012.87L893.54 2011.38L897.02 2009.9L900.49 2008.42L903.97 2006.96L907.44 2005.49L910.91 2004.03L914.39 2002.58L917.86 2001.13L921.34 1999.69L924.81 1998.26L928.29 1996.83L931.76 1995.4L935.23 1993.99L938.71 1992.58L942.18 1991.17L945.66 1989.77L949.13 1988.38L952.61 1986.99L956.08 1985.61L959.55 1984.24L963.03 1982.87L966.5 1981.51L969.98 1980.16L973.45 1978.81L976.92 1977.47L980.4 1976.14L983.87 1974.81L987.35 1973.49L990.82 1972.18L994.3 1970.87L997.77 1969.57L1001.24 1968.28L1004.72 1966.99L1008.19 1965.71L1011.67 1964.44L1015.14 1963.18L1018.62 1961.92L1022.09 1960.67L1025.56 1959.42L1029.04 1958.18L1032.51 1956.95L1035.99 1955.73L1039.46 1954.51L1042.93 1953.3L1046.41 1952.1L1049.88 1950.9L1053.36 1949.71L1056.83 1948.53L1060.31 1947.35L1063.78 1946.18L1067.25 1945.02L1070.73 1943.87L1074.2 1942.72L1077.68 1941.58L1081.15 1940.44L1084.63 1939.31L1088.1 1938.19L1091.57 1937.08L1095.05 1935.97L1098.52 1934.87L1102 1933.78L1105.47 1932.69L1108.94 1931.61L1112.42 1930.54L1115.89 1929.47L1119.37 1928.41L1122.84 1927.36L1126.32 1926.31L1129.79 1925.27L1133.26 1924.24L1136.74 1923.21L1140.21 1922.19L1143.69 1921.17L1147.16 1920.17L1150.64 1919.16L1154.11 1918.17L1157.58 1917.18L1161.06 1916.2L1164.53 1915.22L1168.01 1914.25L1171.48 1913.29L1174.95 1912.33L1178.43 1911.38L1181.9 1910.44L1185.38 1909.5L1188.85 1908.56L1192.33 1907.64L1195.8 1906.72L1199.27 1905.8L1202.75 1904.89L1206.22 1903.99L1209.7 1903.1L1213.17 1902.21L1216.65 1901.32L1220.12 1900.44L1223.59 1899.57L1227.07 1898.7L1230.54 1897.84L1234.02 1896.98L1237.49 1896.13L1240.96 1895.29L1244.44 1894.45L1247.91 1893.62L1251.39 1892.79L1254.86 1891.97L1258.34 1891.15L1261.81 1890.34L1265.28 1889.53L1268.76 1888.73L1272.23 1887.94L1275.71 1887.15L1279.18 1886.36L1282.66 1885.58L1286.13 1884.81L1289.6 1884.04L1293.08 1883.27L1296.55 1882.52L1300.03 1881.76L1303.5 1881.01L1306.97 1880.27L1310.45 1879.53L1313.92 1878.8L1317.4 1878.07L1320.87 1877.34L1324.35 1876.62L1327.82 1875.91L1331.29 1875.2L1334.77 1874.5L1338.24 1873.8L1341.72 1873.1L1345.19 1872.41L1348.67 1871.72L1352.14 1871.04L1355.61 1870.36L1359.09 1869.69L1362.56 1869.02L1366.04 1868.36L1369.51 1867.7L1372.98 1867.05L1376.46 1866.4L1379.93 1865.75L1383.41 1865.11L1386.88 1864.47L1390.36 1863.84L1393.83 1863.21L1397.3 1862.59L1400.78 1861.96L1404.25 1861.35L1407.73 1860.74L1411.2 1860.13L1414.68 1859.52L1418.15 1858.92L1421.62 1858.33L1425.1 1857.73L1428.57 1857.15L1432.05 1856.56L1435.52 1855.98L1438.99 1855.4L1442.47 1854.83L1445.94 1854.26L1449.42 1853.7L1452.89 1853.14L1456.37 1852.58L1459.84 1852.02L1463.31 1851.47L1466.79 1850.93L1470.26 1850.38L1473.74 1849.84L1477.21 1849.31L1480.69 1848.77L1484.16 1848.25L1487.63 1847.72L1491.11 1847.2L1494.58 1846.68L1498.06 1846.16L1501.53 1845.65L1505 1845.14L1508.48 1844.64L1511.95 1844.13L1515.43 1843.64L1518.9 1843.14L1522.38 1842.65L1525.85 1842.16L1529.32 1841.67L1532.8 1841.19L1536.27 1840.71L1539.75 1840.23L1543.22 1839.76L1546.7 1839.29L1550.17 1838.82L1553.64 1838.36L1557.12 1837.89L1560.59 1837.44L1564.07 1836.98L1567.54 1836.53L1571.01 1836.08L1574.49 1835.63L1577.96 1835.19L1581.44 1834.75L1584.91 1834.31L1588.39 1833.87L1591.86 1833.44L1595.33 1833.01L1598.81 1832.58L1602.28 1832.16L1605.76 1831.74L1609.23 1831.32L1612.7 1830.9L1616.18 1830.49L1619.65 1830.07L1623.13 1829.67L1626.6 1829.26L1630.08 1828.86L1633.55 1828.45L1637.02 1828.06L1640.5 1827.66L1643.97 1827.27L1647.45 1826.87L1650.92 1826.49L1654.4 1826.1L1657.87 1825.72L1661.34 1825.33L1664.82 1824.96L1668.29 1824.58L1671.77 1824.2L1675.24 1823.83L1678.71 1823.46L1682.19 1823.09L1685.66 1822.73L1689.14 1822.37L1692.61 1822.01L1696.09 1821.65L1699.56 1821.29L1703.03 1820.94L1706.51 1820.58L1709.98 1820.23L1713.46 1819.89L1716.93 1819.54L1720.41 1819.2L1723.88 1818.86L1727.35 1818.52L1730.83 1818.18L1734.3 1817.84L1737.78 1817.51L1741.25 1817.18L1744.72 1816.85L1748.2 1816.52L1751.67 1816.2L1755.15 1815.88L1758.62 1815.55L1762.1 1815.23L1765.57 1814.92L1769.04 1814.6L1772.52 1814.29L1775.99 1813.98L1779.47 1813.67L1782.94 1813.36L1786.42 1813.05L1789.89 1812.75L1793.36 1812.44L1796.84 1812.14L1800.31 1811.84L1803.79 1811.55L1807.26 1811.25L1810.73 1810.96L1814.21 1810.67L1817.68 1810.38L1821.16 1810.09L1824.63 1809.8L1828.11 1809.51L1831.58 1809.23L1835.05 1808.95L1838.53 1808.67L1842 1808.39L1845.48 1808.11L1848.95 1807.84L1852.43 1807.56L1855.9 1807.29L1859.37 1807.02L1862.85 1806.75L1866.32 1806.48L1869.8 1806.22L1873.27 1805.95L1876.74 1805.69L1880.22 1805.43L1883.69 1805.17L1887.17 1804.91L1890.64 1804.65L1894.12 1804.4L1897.59 1804.14L1901.06 1803.89L1904.54 1803.64L1908.01 1803.39L1911.49 1803.14L1914.96 1802.89L1918.44 1802.65L1921.91 1802.4L1925.38 1802.16L1928.86 1801.92L1932.33 1801.68L1935.81 1801.44L1939.28 1801.2L1942.75 1800.97L1946.23 1800.73L1949.7 1800.5L1953.18 1800.27L1956.65 1800.03L1960.13 1799.81L1963.6 1799.58" fill="none" stroke="#0000ff" stroke-width="3.9" stroke-dasharray="12.4 10" stroke-linejoin="round"/>
<path d="M428 2149.3L444.25 2178.1H411.75ZM504.4 2142.71L520.65 2171.51H488.15ZM580.81 2124.1L597.06 2152.9H564.56ZM657.22 2096.48L673.47 2125.28H640.97ZM733.62 2063.64L749.87 2092.44H717.37ZM810.03 2029.02L826.28 2057.82H793.78ZM886.43 1995.19L902.68 2023.99H870.18ZM962.84 1963.71L979.09 1992.51H946.59ZM1039.24 1935.35L1055.49 1964.15H1022.99ZM1115.64 1910.31L1131.89 1939.11H1099.39ZM1192.05 1888.47L1208.3 1917.27H1175.8ZM1268.45 1869.56L1284.7 1898.36H1252.2ZM1344.86 1853.24L1361.11 1882.04H1328.61ZM1421.27 1839.15L1437.52 1867.95H1405.02ZM1497.67 1826.98L1513.92 1855.78H1481.42ZM1574.07 1816.45L1590.32 1845.25H1557.82ZM1650.48 1807.3L1666.73 1836.1H1634.23ZM1726.89 1799.32L1743.14 1828.12H1710.64ZM1803.29 1792.35L1819.54 1821.15H1787.04ZM1879.69 1786.23L1895.94 1815.03H1863.44ZM1956.1 1780.83L1972.35 1809.63H1939.85Z" fill="#cc33ff" stroke="#ff0000" stroke-width="1.7"/>
<path d="M428 2702.59L433.12 2702.52L438.24 2702.32L443.36 2701.98L448.47 2701.51L453.59 2700.9L458.71 2700.16L463.83 2699.29L468.95 2698.28L474.07 2697.14L479.19 2695.87L484.31 2694.48L489.42 2692.95L494.54 2691.3L499.66 2689.52L504.78 2687.61L509.9 2685.58L515.02 2683.44L520.14 2681.17L525.25 2678.78L530.37 2676.28L535.49 2673.67L540.61 2670.94L545.73 2668.1L550.85 2665.16L555.97 2662.11L561.09 2658.95L566.2 2655.7L571.32 2652.34L576.44 2648.9L581.56 2645.35L586.68 2641.72L591.8 2638L596.92 2634.19L602.03 2630.3L607.15 2626.32L612.27 2622.27L617.39 2618.15L622.51 2613.95L627.63 2609.68L632.75 2605.34L637.87 2600.94L642.98 2596.47L648.1 2591.95L653.22 2587.36L658.34 2582.73L663.46 2578.04L668.58 2573.3L673.7 2568.52L678.81 2563.69L683.93 2558.82L689.05 2553.91L694.17 2548.96L699.29 2543.98L704.41 2538.96L709.53 2533.92L714.65 2528.85L719.76 2523.75L724.88 2518.64L730 2513.5L735.12 2508.34L740.24 2503.16L745.36 2497.98L750.48 2492.77L755.59 2487.56L760.71 2482.34L765.83 2477.11L770.95 2471.88L776.07 2466.65L781.19 2461.41L786.31 2456.17L791.43 2450.94L796.54 2445.71L801.66 2440.48L806.78 2435.26L811.9 2430.05L817.02 2424.85L822.14 2419.66L827.26 2414.48L832.37 2409.31L837.49 2404.16L842.61 2399.02L847.73 2393.9L852.85 2388.8L857.97 2383.72L863.09 2378.65L868.21 2373.61L873.32 2368.59L878.44 2363.59L883.56 2358.61L888.68 2353.66L893.8 2348.73L898.92 2343.83L904.04 2338.96L909.15 2334.11L914.27 2329.29L919.39 2324.5L924.51 2319.73L929.63 2315L934.75 2310.29L939.87 2305.61L944.99 2300.97L950.1 2296.35L955.22 2291.77L960.34 2287.22L965.46 2282.7L970.58 2278.21L975.7 2273.75L980.82 2269.33L985.93 2264.94L991.05 2260.58L996.17 2256.26L1001.29 2251.96L1006.41 2247.71L1011.53 2243.48L1016.65 2239.29L1021.77 2235.13L1026.88 2231.01L1032 2226.92L1037.12 2222.86L1042.24 2218.84L1047.36 2214.85L1052.48 2210.9L1057.6 2206.98L1062.71 2203.09L1067.83 2199.24L1072.95 2195.42L1078.07 2191.63L1083.19 2187.88L1088.31 2184.16L1093.43 2180.47L1098.55 2176.82L1103.66 2173.2L1108.78 2169.61L1113.9 2166.06L1119.02 2162.54L1124.14 2159.05L1129.26 2155.59L1134.38 2152.16L1139.49 2148.77L1144.61 2145.41L1149.73 2142.08L1154.85 2138.78L1159.97 2135.51L1165.09 2132.27L1170.21 2129.07L1175.33 2125.89L1180.44 2122.75L1185.56 2119.63L1190.68 2116.54L1195.8 2113.49L1200.92 2110.46L1206.04 2107.47L1211.16 2104.5L1216.27 2101.56L1221.39 2098.65L1226.51 2095.76L1231.63 2092.91L1236.75 2090.08L1241.87 2087.28L1246.99 2084.51L1252.11 2081.77L1257.22 2079.05L1262.34 2076.36L1267.46 2073.69L1272.58 2071.05L1277.7 2068.44L1282.82 2065.85L1287.94 2063.29L1293.05 2060.75L1298.17 2058.24L1303.29 2055.75L1308.41 2053.29L1313.53 2050.85L1318.65 2048.44L1323.77 2046.05L1328.89 2043.68L1334 2041.34L1339.12 2039.02L1344.24 2036.72L1349.36 2034.44L1354.48 2032.19L1359.6 2029.96L1364.72 2027.75L1369.83 2025.57L1374.95 2023.4L1380.07 2021.26L1385.19 2019.13L1390.31 2017.03L1395.43 2014.95L1400.55 2012.89L1405.67 2010.85L1410.78 2008.83L1415.9 2006.82L1421.02 2004.84L1426.14 2002.88L1431.26 2000.94L1436.38 1999.01L1441.5 1997.11L1446.61 1995.22L1451.73 1993.35L1456.85 1991.5L1461.97 1989.67L1467.09 1987.85L1472.21 1986.06L1477.33 1984.28L1482.45 1982.51L1487.56 1980.77L1492.68 1979.04L1497.8 1977.33L1502.92 1975.63L1508.04 1973.95L1513.16 1972.29L1518.28 1970.64L1523.39 1969.01L1528.51 1967.39L1533.63 1965.79L1538.75 1964.21L1543.87 1962.63L1548.99 1961.08L1554.11 1959.54L1559.23 1958.01L1564.34 1956.5L1569.46 1955L1574.58 1953.52L1579.7 1952.05L1584.82 1950.59L1589.94 1949.15L1595.06 1947.72L1600.17 1946.31L1605.29 1944.91L1610.41 1943.52L1615.53 1942.14L1620.65 1940.78L1625.77 1939.43L1630.89 1938.09L1636.01 1936.76L1641.12 1935.45L1646.24 1934.15L1651.36 1932.86L1656.48 1931.58L1661.6 1930.31L1666.72 1929.06L1671.84 1927.82L1676.95 1926.59L1682.07 1925.36L1687.19 1924.16L1692.31 1922.96L1697.43 1921.77L1702.55 1920.59L1707.67 1919.43L1712.79 1918.27L1717.9 1917.13L1723.02 1915.99L1728.14 1914.87L1733.26 1913.75L1738.38 1912.65L1743.5 1911.55L1748.62 1910.47L1753.73 1909.39L1758.85 1908.32L1763.97 1907.27L1769.09 1906.22L1774.21 1905.18L1779.33 1904.15L1784.45 1903.13L1789.57 1902.12L1794.68 1901.12L1799.8 1900.12L1804.92 1899.14L1810.04 1898.16L1815.16 1897.19L1820.28 1896.23L1825.4 1895.28L1830.51 1894.34L1835.63 1893.4L1840.75 1892.48L1845.87 1891.56L1850.99 1890.65L1856.11 1889.74L1861.23 1888.85L1866.35 1887.96L1871.46 1887.08L1876.58 1886.2L1881.7 1885.34L1886.82 1884.48L1891.94 1883.63L1897.06 1882.78L1902.18 1881.95L1907.29 1881.12L1912.41 1880.29L1917.53 1879.48L1922.65 1878.67L1927.77 1877.86L1932.89 1877.07L1938.01 1876.28L1943.13 1875.49L1948.24 1874.72L1953.36 1873.95L1958.48 1873.18L1963.6 1872.42" fill="none" stroke="#ff0000" stroke-width="3.9" stroke-linejoin="round"/>
<g fill="#669900" stroke="#0000ff" stroke-width="2.1"><circle cx="428" cy="2702.59" r="13.9"/><circle cx="489.42" cy="2692.95" r="13.9"/><circle cx="550.85" cy="2665.16" r="13.9"/><circle cx="612.27" cy="2622.27" r="13.9"/><circle cx="673.7" cy="2568.52" r="13.9"/><circle cx="735.12" cy="2508.34" r="13.9"/><circle cx="796.54" cy="2445.71" r="13.9"/><circle cx="857.97" cy="2383.72" r="13.9"/><circle cx="919.39" cy="2324.5" r="13.9"/><circle cx="980.82" cy="2269.33" r="13.9"/><circle cx="1042.24" cy="2218.84" r="13.9"/><circle cx="1103.66" cy="2173.2" r="13.9"/><circle cx="1165.09" cy="2132.27" r="13.9"/><circle cx="1226.51" cy="2095.76" r="13.9"/><circle cx="1287.94" cy="2063.29" r="13.9"/><circle cx="1349.36" cy="2034.44" r="13.9"/><circle cx="1410.78" cy="2008.83" r="13.9"/><circle cx="1472.21" cy="1986.06" r="13.9"/><circle cx="1533.63" cy="1965.79" r="13.9"/><circle cx="1595.06" cy="1947.72" r="13.9"/><circle cx="1656.48" cy="1931.58" r="13.9"/><circle cx="1717.9" cy="1917.13" r="13.9"/><circle cx="1779.33" cy="1904.15" r="13.9"/><circle cx="1840.75" cy="1892.48" r="13.9"/><circle cx="1902.18" cy="1881.95" r="13.9"/><circle cx="1963.6" cy="1872.42" r="13.9"/></g>
<path d="M428 2702.59L433.12 2702.52L438.24 2702.32L443.36 2701.98L448.47 2701.51L453.59 2700.9L458.71 2700.16L463.83 2699.29L468.95 2698.28L474.07 2697.14L479.19 2695.87L484.31 2694.48L489.42 2692.95L494.54 2691.3L499.66 2689.52L504.78 2687.61L509.9 2685.58L515.02 2683.44L520.14 2681.17L525.25 2678.78L530.37 2676.28L535.49 2673.67L540.61 2670.94L545.73 2668.1L550.85 2665.16L555.97 2662.11L561.09 2658.95L566.2 2655.7L571.32 2652.34L576.44 2648.9L581.56 2645.35L586.68 2641.72L591.8 2638L596.92 2634.19L602.03 2630.3L607.15 2626.32L612.27 2622.27L617.39 2618.15L622.51 2613.95L627.63 2609.68L632.75 2605.34L637.87 2600.94L642.98 2596.47L648.1 2591.95L653.22 2587.36L658.34 2582.73L663.46 2578.04L668.58 2573.3L673.7 2568.52L678.81 2563.69L683.93 2558.82L689.05 2553.91L694.17 2548.96L699.29 2543.98L704.41 2538.96L709.53 2533.92L714.65 2528.85L719.76 2523.75L724.88 2518.64L730 2513.5L735.12 2508.34L740.24 2503.16L745.36 2497.98L750.48 2492.77L755.59 2487.56L760.71 2482.34L765.83 2477.11L770.95 2471.88L776.07 2466.65L781.19 2461.41L786.31 2456.17L791.43 2450.94L796.54 2445.71L801.66 2440.48L806.78 2435.26L811.9 2430.05L817.02 2424.85L822.14 2419.66L827.26 2414.48L832.37 2409.31L837.49 2404.16L842.61 2399.02L847.73 2393.9L852.85 2388.8L857.97 2383.72L863.09 2378.65L868.21 2373.61L873.32 2368.59L878.44 2363.59L883.56 2358.61L888.68 2353.66L893.8 2348.73L898.92 2343.83L904.04 2338.96L909.15 2334.11L914.27 2329.29L919.39 2324.5L924.51 2319.73L929.63 2315L934.75 2310.29L939.87 2305.61L944.99 2300.97L950.1 2296.35L955.22 2291.77L960.34 2287.22L965.46 2282.7L970.58 2278.21L975.7 2273.75L980.82 2269.33L985.93 2264.94L991.05 2260.58L996.17 2256.26L1001.29 2251.96L1006.41 2247.71L1011.53 2243.48L1016.65 2239.29L1021.77 2235.13L1026.88 2231.01L1032 2226.92L1037.12 2222.86L1042.24 2218.84L1047.36 2214.85L1052.48 2210.9L1057.6 2206.98L1062.71 2203.09L1067.83 2199.24L1072.95 2195.42L1078.07 2191.63L1083.19 2187.88L1088.31 2184.16L1093.43 2180.47L1098.55 2176.82L1103.66 2173.2L1108.78 2169.61L1113.9 2166.06L1119.02 2162.54L1124.14 2159.05L1129.26 2155.59L1134.38 2152.16L1139.49 2148.77L1144.61 2145.41L1149.73 2142.08L1154.85 2138.78L1159.97 2135.51L1165.09 2132.27L1170.21 2129.07L1175.33 2125.89L1180.44 2122.75L1185.56 2119.63L1190.68 2116.54L1195.8 2113.49L1200.92 2110.46L1206.04 2107.47L1211.16 2104.5L1216.27 2101.56L1221.39 2098.65L1226.51 2095.76L1231.63 2092.91L1236.75 2090.08L1241.87 2087.28L1246.99 2084.51L1252.11 2081.77L1257.22 2079.05L1262.34 2076.36L1267.46 2073.69L1272.58 2071.05L1277.7 2068.44L1282.82 2065.85L1287.94 2063.29L1293.05 2060.75L1298.17 2058.24L1303.29 2055.75L1308.41 2053.29L1313.53 2050.85L1318.65 2048.44L1323.77 2046.05L1328.89 2043.68L1334 2041.34L1339.12 2039.02L1344.24 2036.72L1349.36 2034.44L1354.48 2032.19L1359.6 2029.96L1364.72 2027.75L1369.83 2025.57L1374.95 2023.4L1380.07 2021.26L1385.19 2019.13L1390.31 2017.03L1395.43 2014.95L1400.55 2012.89L1405.67 2010.85L1410.78 2008.83L1415.9 2006.82L1421.02 2004.84L1426.14 2002.88L1431.26 2000.94L1436.38 1999.01L1441.5 1997.11L1446.61 1995.22L1451.73 1993.35L1456.85 1991.5L1461.97 1989.67L1467.09 1987.85L1472.21 1986.06L1477.33 1984.28L1482.45 1982.51L1487.56 1980.77L1492.68 1979.04L1497.8 1977.33L1502.92 1975.63L1508.04 1973.95L1513.16 1972.29L1518.28 1970.64L1523.39 1969.01L1528.51 1967.39L1533.63 1965.79L1538.75 1964.21L1543.87 1962.63L1548.99 1961.08L1554.11 1959.54L1559.23 1958.01L1564.34 1956.5L1569.46 1955L1574.58 1953.52L1579.7 1952.05L1584.82 1950.59L1589.94 1949.15L1595.06 1947.72L1600.17 1946.31L1605.29 1944.91L1610.41 1943.52L1615.53 1942.14L1620.65 1940.78L1625.77 1939.43L1630.89 1938.09L1636.01 1936.76L1641.12 1935.45L1646.24 1934.15L1651.36 1932.86L1656.48 1931.58L1661.6 1930.31L1666.72 1929.06L1671.84 1927.82L1676.95 1926.59L1682.07 1925.36L1687.19 1924.16L1692.31 1922.96L1697.43 1921.77L1702.55 1920.59L1707.67 1919.43L1712.79 1918.27L1717.9 1917.13L1723.02 1915.99L1728.14 1914.87L1733.26 1913.75L1738.38 1912.65L1743.5 1911.55L1748.62 1910.47L1753.73 1909.39L1758.85 1908.32L1763.97 1907.27L1769.09 1906.22L1774.21 1905.18L1779.33 1904.15L1784.45 1903.13L1789.57 1902.12L1794.68 1901.12L1799.8 1900.12L1804.92 1899.14L1810.04 1898.16L1815.16 1897.19L1820.28 1896.23L1825.4 1895.28L1830.51 1894.34L1835.63 1893.4L1840.75 1892.48L1845.87 1891.56L1850.99 1890.65L1856.11 1889.74L1861.23 1888.85L1866.35 1887.96L1871.46 1887.08L1876.58 1886.2L1881.7 1885.34L1886.82 1884.48L1891.94 1883.63L1897.06 1882.78L1902.18 1881.95L1907.29 1881.12L1912.41 1880.29L1917.53 1879.48L1922.65 1878.67L1927.77 1877.86L1932.89 1877.07L1938.01 1876.28L1943.13 1875.49L1948.24 1874.72L1953.36 1873.95L1958.48 1873.18L1963.6 1872.42" fill="none" stroke="#0000ff" stroke-width="3.9" stroke-dasharray="12.4 10" stroke-linejoin="round"/>
<path d="M428 2683.35L444.25 2712.15H411.75ZM494.42 2672.1L510.67 2700.9H478.17ZM560.84 2639.87L577.09 2668.67H544.59ZM627.26 2590.75L643.51 2619.55H611.01ZM693.68 2530.2L709.93 2559H677.43ZM760.1 2463.73L776.35 2492.53H743.85ZM826.52 2395.98L842.77 2424.78H810.27ZM892.94 2330.32L909.19 2359.12H876.69ZM959.36 2268.85L975.61 2297.65H943.11ZM1025.78 2212.66L1042.03 2241.46H1009.53ZM1092.2 2162.12L1108.45 2190.92H1075.95ZM1158.62 2117.13L1174.87 2145.93H1142.37ZM1225.04 2077.35L1241.29 2106.15H1208.79ZM1291.46 2042.3L1307.71 2071.1H1275.21ZM1357.88 2011.47L1374.13 2040.27H1341.63ZM1424.3 1984.35L1440.55 2013.15H1408.05ZM1490.72 1960.46L1506.97 1989.26H1474.47ZM1557.14 1939.39L1573.39 1968.19H1540.89ZM1623.56 1920.77L1639.81 1949.57H1607.31ZM1689.98 1904.26L1706.23 1933.06H1673.73ZM1756.4 1889.59L1772.65 1918.39H1740.15ZM1822.82 1876.52L1839.07 1905.32H1806.57ZM1889.24 1864.84L1905.49 1893.64H1872.99ZM1955.66 1854.36L1971.91 1883.16H1939.41Z" fill="#cc33ff" stroke="#ff0000" stroke-width="1.7"/>
<text x="400.5" y="1762.1" font-size="73" text-anchor="end">0.0000</text>
<text x="400.5" y="1975.72" font-size="73" text-anchor="end">-0.0002</text>
<text x="400.5" y="2189.34" font-size="73" text-anchor="end">-0.0004</text>
<text x="400.5" y="2402.96" font-size="73" text-anchor="end">-0.0006</text>
<text x="400.5" y="2616.58" font-size="73" text-anchor="end">-0.0008</text>
<text x="400.5" y="2830.2" font-size="73" text-anchor="end">-0.0010</text>
<text x="428" y="2925" font-size="73" text-anchor="middle">0.0</text>
<text x="811.9" y="2925" font-size="73" text-anchor="middle">0.1</text>
<text x="1195.8" y="2925" font-size="73" text-anchor="middle">0.2</text>
<text x="1579.7" y="2925" font-size="73" text-anchor="middle">0.3</text>
<text x="1963.6" y="2925" font-size="73" text-anchor="middle">0.4</text>
<text x="1195.9" y="3045" font-size="108" text-anchor="middle" font-family='"Liberation Serif", "Times New Roman", Times, serif'>Δ</text>
<text transform="translate(106.6 2220.8) rotate(-90)" font-size="88" text-anchor="middle">Energy</text>
<text x="478" y="1708" font-size="88" font-weight="bold">(b)</text>
<text x="536" y="1946.3" font-size="73"><tspan font-family='"Liberation Serif", "Times New Roman", Times, serif' font-size="78">λ</tspan><tspan dx="1.5">=0.01</tspan></text>
<text x="536" y="2255.7" font-size="73"><tspan font-family='"Liberation Serif", "Times New Roman", Times, serif' font-size="78">λ</tspan><tspan dx="1.5">=0.02</tspan></text>
<text x="536" y="2434.4" font-size="73"><tspan font-family='"Liberation Serif", "Times New Roman", Times, serif' font-size="78">λ</tspan><tspan dx="1.5">=0.03</tspan></text>
<path d="M1125 2426.7L1219.5 2104M1485.7 2426.7L1222.5 2094.5" stroke="#ff8000" stroke-width="3.8" stroke-dasharray="4.3 5.9" fill="none"/>
<rect x="1575.6" y="2448" width="353.3" height="221.4" fill="#fff" stroke="#000" stroke-width="4.3"/>
<path d="M1596.3 2511.7H1741.4" stroke="#ff0000" stroke-width="4.2" fill="none"/>
<circle cx="1668.7" cy="2511.7" r="13.8" fill="#669900" stroke="#0000ff" stroke-width="2.2"/>
<path d="M1596.3 2618.5H1741.4" stroke="#0000ff" stroke-width="3.7" stroke-dasharray="11 11.1" fill="none"/>
<path d="M1668.7 2600.07L1684.95 2628.47H1652.45Z" fill="#cc33ff" stroke="#ff0000" stroke-width="1.9"/>
<text x="1760.8" y="2538.7" font-size="80.5">E</text>
<text x="1814" y="2506" font-size="52.5">add</text>
<text x="1820.5" y="2554.5" font-size="60">+</text>
<text x="1760.8" y="2645.5" font-size="80.5">E</text>
<text x="1814" y="2612.8" font-size="52.5">add</text>
<text x="1820.5" y="2663.9" font-size="60">−</text>
<rect x="1125" y="2426.7" width="360.7" height="244.9" fill="#fff" stroke="#000" stroke-width="3.8"/>
<path d="M1125 2457.8h24M1125 2564.2h24M1125 2511.4h12M1125 2617.8h12M1170.2 2671.6v-24M1305.4 2671.6v-24M1440.6 2671.6v-24M1237.8 2671.6v-12M1373 2671.6v-12" stroke="#000" stroke-width="3.6" fill="none"/>
<path d="M1125 2550.4L1485.7 2509.6" stroke="#ff0000" stroke-width="3.7" fill="none"/>
<g fill="#669900" stroke="#3333ff" stroke-width="1.8"><circle cx="1125" cy="2550.4" r="10.8"/><circle cx="1215.17" cy="2540.2" r="10.8"/><circle cx="1305.35" cy="2530" r="10.8"/><circle cx="1395.53" cy="2519.8" r="10.8"/><circle cx="1485.7" cy="2509.6" r="10.8"/></g>
<path d="M1125 2575L1485.7 2533.3" stroke="#0000ff" stroke-width="3.7" stroke-dasharray="12 10" stroke-dashoffset="2.9" fill="none"/>
<path d="M1125 2560.76L1138.25 2583.36H1111.75ZM1215.17 2550.34L1228.42 2572.94H1201.92ZM1305.35 2539.91L1318.6 2562.51H1292.1ZM1395.53 2529.49L1408.78 2552.09H1382.28ZM1485.7 2519.06L1498.95 2541.66H1472.45Z" fill="#cc33ff" stroke="#ff3366" stroke-width="1.8"/>
<text x="1098.6" y="2468.8" font-size="38.1" text-anchor="end">-0.000324</text>
<text x="1098.6" y="2575.2" font-size="38.1" text-anchor="end">-0.000328</text>
<text x="1098.6" y="2681.6" font-size="38.1" text-anchor="end">-0.000332</text>
<text x="1170.2" y="2728.8" font-size="38" text-anchor="middle">0.2103</text>
<text x="1305.4" y="2728.8" font-size="38" text-anchor="middle">0.2106</text>
<text x="1440.6" y="2728.8" font-size="38" text-anchor="middle">0.2109</text>
<text x="1304.95" y="2789" font-size="51" text-anchor="middle" font-family='"Liberation Serif", "Times New Roman", Times, serif'>Δ</text>
<text transform="translate(897.4 2549) rotate(-90)" font-size="45" text-anchor="middle">Energy</text>
</g>
</svg>
</body></html>
